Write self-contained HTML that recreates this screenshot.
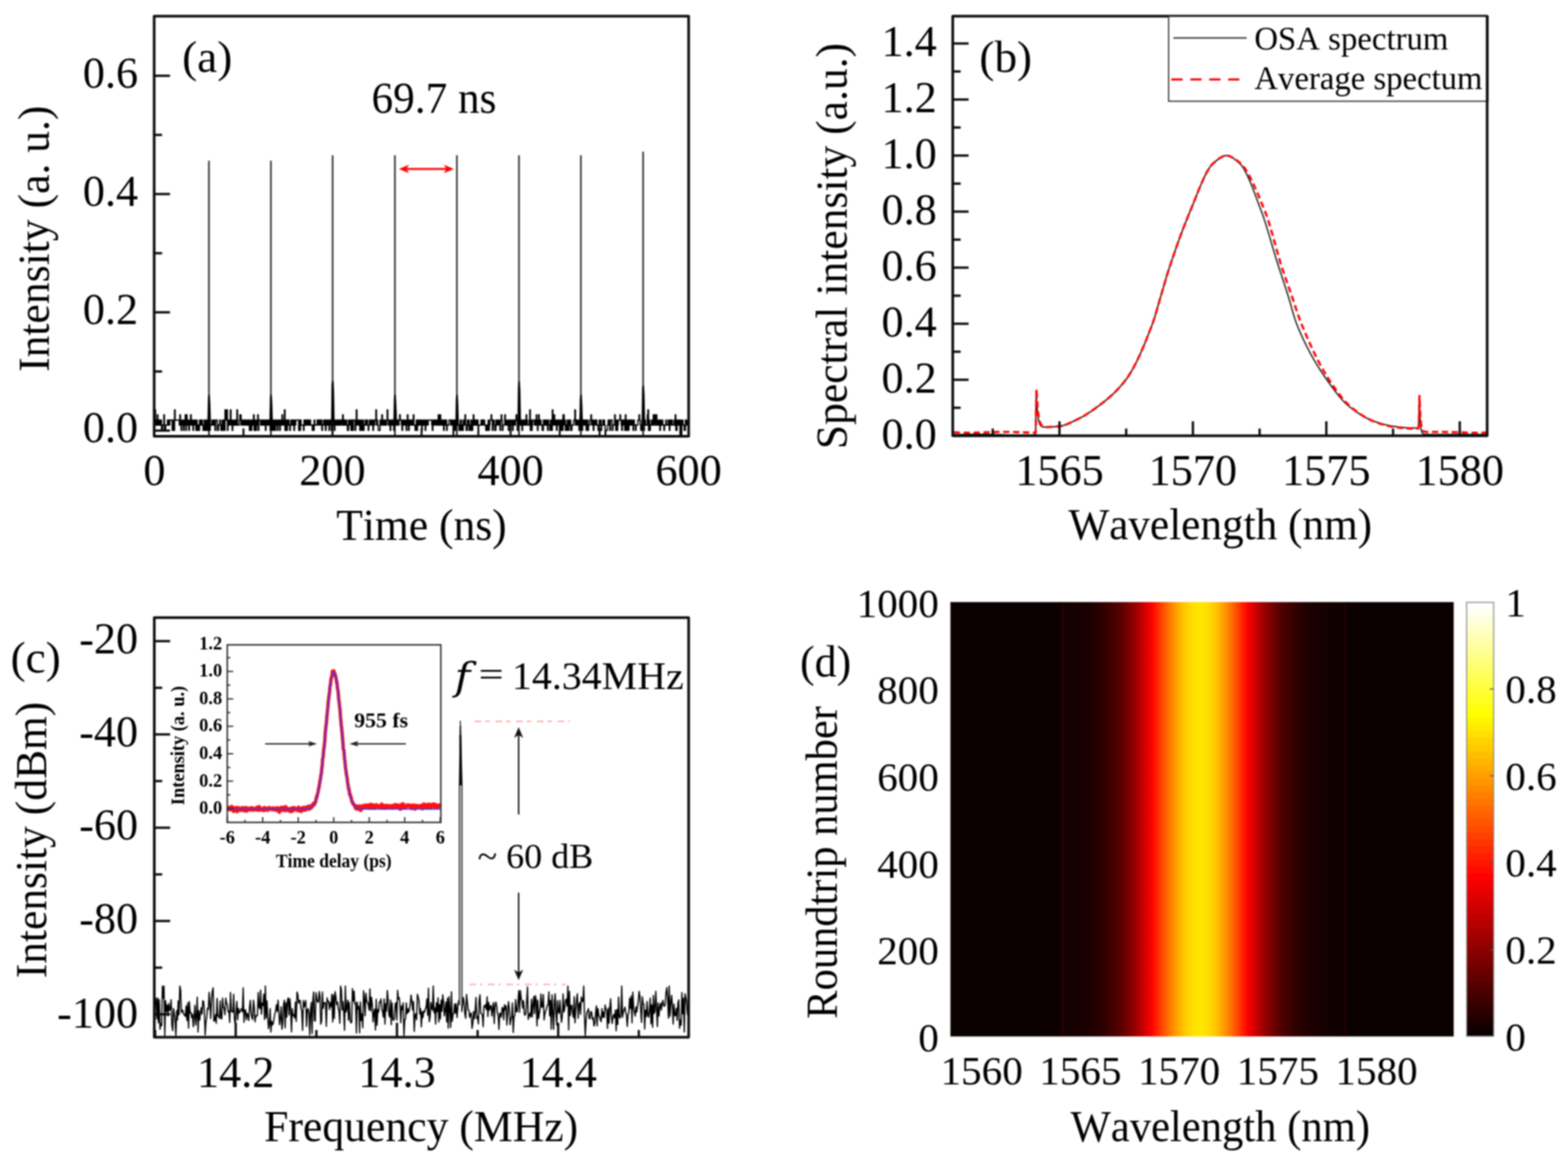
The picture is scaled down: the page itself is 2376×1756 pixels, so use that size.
<!DOCTYPE html>
<html><head><meta charset="utf-8"><title>Figure</title><style>html,body{margin:0;padding:0;background:#fff;width:2376px;height:1756px;overflow:hidden}svg{display:block;filter:blur(1px)}text{font-kerning:none;font-variant-ligatures:none}</style></head><body>
<svg width="2376" height="1756" viewBox="0 0 2376 1756"><rect width="2376" height="1756" fill="#fff"/><g font-family="'Liberation Serif', 'Times New Roman', serif" fill="#000"><polyline points="234.8,621 235.7,621 235.7,644 236.6,644 236.6,636.5 237.5,636.5 237.5,644 238.4,644 238.4,628.5 239.3,628.5 239.3,644 240.2,644 240.2,644 241.1,644 241.1,636.5 242,636.5 242,644 242.9,644 242.9,636.5 243.8,636.5 243.8,636.5 244.7,636.5 244.7,652 245.6,652 245.6,652 246.5,652 246.5,644 247.4,644 247.4,644 248.3,644 248.3,628.5 249.2,628.5 249.2,652 250.1,652 250.1,652 251,652 251,644 251.9,644 251.9,644 252.8,644 252.8,644 253.7,644 253.7,636.5 254.6,636.5 254.6,644 255.5,644 255.5,636.5 256.4,636.5 256.4,644 257.3,644 257.3,636.5 258.2,636.5 258.2,636.5 259.1,636.5 259.1,636.5 260,636.5 260,636.5 260.9,636.5 260.9,652 261.8,652 261.8,636.5 262.7,636.5 262.7,644 263.6,644 263.6,652 264.5,652 264.5,621 265.4,621 265.4,636.5 266.3,636.5 266.3,636.5 267.2,636.5 267.2,636.5 268.1,636.5 268.1,636.5 269,636.5 269,636.5 269.9,636.5 269.9,636.5 270.8,636.5 270.8,636.5 271.7,636.5 271.7,644 272.6,644 272.6,628.5 273.5,628.5 273.5,636.5 274.4,636.5 274.4,652 275.3,652 275.3,644 276.2,644 276.2,636.5 277.1,636.5 277.1,644 278,644 278,652 278.9,652 278.9,636.5 279.8,636.5 279.8,644 280.7,644 280.7,628.5 281.6,628.5 281.6,652 282.5,652 282.5,628.5 283.4,628.5 283.4,644 284.3,644 284.3,636.5 285.2,636.5 285.2,644 286.1,644 286.1,652 287,652 287,636.5 287.9,636.5 287.9,644 288.8,644 288.8,628.5 289.7,628.5 289.7,636.5 290.6,636.5 290.6,644 291.5,644 291.5,636.5 292.4,636.5 292.4,652 293.3,652 293.3,644 294.2,644 294.2,636.5 295.1,636.5 295.1,636.5 296,636.5 296,644 296.9,644 296.9,652 297.8,652 297.8,636.5 298.7,636.5 298.7,644 299.6,644 299.6,652 300.5,652 300.5,644 301.4,644 301.4,652 302.3,652 302.3,636.5 303.2,636.5 303.2,644 304.1,644 304.1,636.5 305,636.5 305,644 305.9,644 305.9,636.5 306.8,636.5 306.8,644 307.7,644 307.7,652 308.6,652 308.6,644 309.5,644 309.5,636.5 310.4,636.5 310.4,652 311.3,652 311.3,636.5 312.2,636.5 312.2,652 313.1,652 313.1,644 314,644 314,636.5 314.9,636.5 314.9,652 315.8,652 315.8,644 316.7,644 316.7,652 317.6,652 317.6,652 318.5,652 318.5,644 319.4,644 319.4,644 320.3,644 320.3,644 321.2,644 321.2,636.5 322.1,636.5 322.1,644 323,644 323,644 323.9,644 323.9,636.5 324.8,636.5 324.8,644 325.7,644 325.7,652 326.6,652 326.6,636.5 327.5,636.5 327.5,636.5 328.4,636.5 328.4,636.5 329.3,636.5 329.3,652 330.2,652 330.2,652 331.1,652 331.1,644 332,644 332,644 332.9,644 332.9,636.5 333.8,636.5 333.8,644 334.7,644 334.7,652 335.6,652 335.6,644 336.5,644 336.5,636.5 337.4,636.5 337.4,652 338.3,652 338.3,644 339.2,644 339.2,636.5 340.1,636.5 340.1,652 341,652 341,621 341.9,621 341.9,628.5 342.8,628.5 342.8,636.5 343.7,636.5 343.7,621 344.6,621 344.6,652 345.5,652 345.5,644 346.4,644 346.4,636.5 347.3,636.5 347.3,636.5 348.2,636.5 348.2,644 349.1,644 349.1,621 350,621 350,636.5 350.9,636.5 350.9,644 351.8,644 351.8,652 352.7,652 352.7,636.5 353.6,636.5 353.6,644 354.5,644 354.5,644 355.4,644 355.4,636.5 356.3,636.5 356.3,644 357.2,644 357.2,636.5 358.1,636.5 358.1,644 359,644 359,621 359.9,621 359.9,644 360.8,644 360.8,644 361.7,644 361.7,644 362.6,644 362.6,636.5 363.5,636.5 363.5,628.5 364.4,628.5 364.4,628.5 365.3,628.5 365.3,644 366.2,644 366.2,636.5 367.1,636.5 367.1,636.5 368,636.5 368,644 368.9,644 368.9,636.5 369.8,636.5 369.8,644 370.7,644 370.7,636.5 371.6,636.5 371.6,636.5 372.5,636.5 372.5,644 373.4,644 373.4,644 374.3,644 374.3,636.5 375.2,636.5 375.2,644 376.1,644 376.1,636.5 377,636.5 377,636.5 377.9,636.5 377.9,652 378.8,652 378.8,644 379.7,644 379.7,636.5 380.6,636.5 380.6,652 381.5,652 381.5,644 382.4,644 382.4,636.5 383.3,636.5 383.3,644 384.2,644 384.2,628.5 385.1,628.5 385.1,652 386,652 386,652 386.9,652 386.9,636.5 387.8,636.5 387.8,652 388.7,652 388.7,644 389.6,644 389.6,636.5 390.5,636.5 390.5,628.5 391.4,628.5 391.4,652 392.3,652 392.3,636.5 393.2,636.5 393.2,636.5 394.1,636.5 394.1,636.5 395,636.5 395,644 395.9,644 395.9,644 396.8,644 396.8,636.5 397.7,636.5 397.7,644 398.6,644 398.6,636.5 399.5,636.5 399.5,644 400.4,644 400.4,636.5 401.3,636.5 401.3,644 402.2,644 402.2,652 403.1,652 403.1,636.5 404,636.5 404,636.5 404.9,636.5 404.9,644 405.8,644 405.8,636.5 406.7,636.5 406.7,644 407.6,644 407.6,636.5 408.5,636.5 408.5,636.5 409.4,636.5 409.4,652 410.3,652 410.3,644 411.2,644 411.2,652 412.1,652 412.1,636.5 413,636.5 413,644 413.9,644 413.9,652 414.8,652 414.8,636.5 415.7,636.5 415.7,644 416.6,644 416.6,652 417.5,652 417.5,636.5 418.4,636.5 418.4,636.5 419.3,636.5 419.3,644 420.2,644 420.2,652 421.1,652 421.1,636.5 422,636.5 422,636.5 422.9,636.5 422.9,644 423.8,644 423.8,652 424.7,652 424.7,636.5 425.6,636.5 425.6,644 426.5,644 426.5,644 427.4,644 427.4,628.5 428.3,628.5 428.3,636.5 429.2,636.5 429.2,644 430.1,644 430.1,636.5 431,636.5 431,621 431.9,621 431.9,652 432.8,652 432.8,652 433.7,652 433.7,636.5 434.6,636.5 434.6,652 435.5,652 435.5,636.5 436.4,636.5 436.4,644 437.3,644 437.3,636.5 438.2,636.5 438.2,644 439.1,644 439.1,652 440,652 440,644 440.9,644 440.9,636.5 441.8,636.5 441.8,644 442.7,644 442.7,636.5 443.6,636.5 443.6,644 444.5,644 444.5,636.5 445.4,636.5 445.4,652 446.3,652 446.3,636.5 447.2,636.5 447.2,644 448.1,644 448.1,636.5 449,636.5 449,636.5 449.9,636.5 449.9,636.5 450.8,636.5 450.8,636.5 451.7,636.5 451.7,636.5 452.6,636.5 452.6,652 453.5,652 453.5,636.5 454.4,636.5 454.4,652 455.3,652 455.3,636.5 456.2,636.5 456.2,644 457.1,644 457.1,644 458,644 458,644 458.9,644 458.9,644 459.8,644 459.8,652 460.7,652 460.7,636.5 461.6,636.5 461.6,644 462.5,644 462.5,636.5 463.4,636.5 463.4,644 464.3,644 464.3,636.5 465.2,636.5 465.2,644 466.1,644 466.1,636.5 467,636.5 467,644 467.9,644 467.9,636.5 468.8,636.5 468.8,644 469.7,644 469.7,636.5 470.6,636.5 470.6,644 471.5,644 471.5,644 472.4,644 472.4,644 473.3,644 473.3,652 474.2,652 474.2,644 475.1,644 475.1,652 476,652 476,636.5 476.9,636.5 476.9,644 477.8,644 477.8,644 478.7,644 478.7,644 479.6,644 479.6,644 480.5,644 480.5,636.5 481.4,636.5 481.4,636.5 482.3,636.5 482.3,644 483.2,644 483.2,636.5 484.1,636.5 484.1,636.5 485,636.5 485,644 485.9,644 485.9,636.5 486.8,636.5 486.8,636.5 487.7,636.5 487.7,652 488.6,652 488.6,644 489.5,644 489.5,644 490.4,644 490.4,636.5 491.3,636.5 491.3,644 492.2,644 492.2,636.5 493.1,636.5 493.1,652 494,652 494,636.5 494.9,636.5 494.9,644 495.8,644 495.8,636.5 496.7,636.5 496.7,644 497.6,644 497.6,636.5 498.5,636.5 498.5,652 499.4,652 499.4,644 500.3,644 500.3,636.5 501.2,636.5 501.2,636.5 502.1,636.5 502.1,652 503,652 503,644 503.9,644 503.9,636.5 504.8,636.5 504.8,636.5 505.7,636.5 505.7,636.5 506.6,636.5 506.6,652 507.5,652 507.5,644 508.4,644 508.4,636.5 509.3,636.5 509.3,644 510.2,644 510.2,636.5 511.1,636.5 511.1,644 512,644 512,636.5 512.9,636.5 512.9,644 513.8,644 513.8,644 514.7,644 514.7,636.5 515.6,636.5 515.6,644 516.5,644 516.5,636.5 517.4,636.5 517.4,636.5 518.3,636.5 518.3,644 519.2,644 519.2,628.5 520.1,628.5 520.1,644 521,644 521,636.5 521.9,636.5 521.9,644 522.8,644 522.8,636.5 523.7,636.5 523.7,644 524.6,644 524.6,636.5 525.5,636.5 525.5,644 526.4,644 526.4,652 527.3,652 527.3,652 528.2,652 528.2,636.5 529.1,636.5 529.1,636.5 530,636.5 530,644 530.9,644 530.9,636.5 531.8,636.5 531.8,652 532.7,652 532.7,644 533.6,644 533.6,636.5 534.5,636.5 534.5,652 535.4,652 535.4,636.5 536.3,636.5 536.3,636.5 537.2,636.5 537.2,636.5 538.1,636.5 538.1,652 539,652 539,636.5 539.9,636.5 539.9,621 540.8,621 540.8,644 541.7,644 541.7,644 542.6,644 542.6,636.5 543.5,636.5 543.5,644 544.4,644 544.4,636.5 545.3,636.5 545.3,652 546.2,652 546.2,644 547.1,644 547.1,636.5 548,636.5 548,652 548.9,652 548.9,644 549.8,644 549.8,636.5 550.7,636.5 550.7,652 551.6,652 551.6,644 552.5,644 552.5,644 553.4,644 553.4,636.5 554.3,636.5 554.3,644 555.2,644 555.2,636.5 556.1,636.5 556.1,636.5 557,636.5 557,644 557.9,644 557.9,652 558.8,652 558.8,644 559.7,644 559.7,636.5 560.6,636.5 560.6,636.5 561.5,636.5 561.5,644 562.4,644 562.4,636.5 563.3,636.5 563.3,636.5 564.2,636.5 564.2,644 565.1,644 565.1,652 566,652 566,636.5 566.9,636.5 566.9,644 567.8,644 567.8,636.5 568.7,636.5 568.7,636.5 569.6,636.5 569.6,621 570.5,621 570.5,644 571.4,644 571.4,636.5 572.3,636.5 572.3,644 573.2,644 573.2,652 574.1,652 574.1,652 575,652 575,652 575.9,652 575.9,636.5 576.8,636.5 576.8,644 577.7,644 577.7,636.5 578.6,636.5 578.6,628.5 579.5,628.5 579.5,644 580.4,644 580.4,644 581.3,644 581.3,636.5 582.2,636.5 582.2,644 583.1,644 583.1,636.5 584,636.5 584,644 584.9,644 584.9,644 585.8,644 585.8,636.5 586.7,636.5 586.7,621 587.6,621 587.6,636.5 588.5,636.5 588.5,644 589.4,644 589.4,636.5 590.3,636.5 590.3,644 591.2,644 591.2,652 592.1,652 592.1,636.5 593,636.5 593,636.5 593.9,636.5 593.9,644 594.8,644 594.8,636.5 595.7,636.5 595.7,644 596.6,644 596.6,652 597.5,652 597.5,644 598.4,644 598.4,636.5 599.3,636.5 599.3,621 600.2,621 600.2,636.5 601.1,636.5 601.1,636.5 602,636.5 602,644 602.9,644 602.9,636.5 603.8,636.5 603.8,644 604.7,644 604.7,636.5 605.6,636.5 605.6,628.5 606.5,628.5 606.5,636.5 607.4,636.5 607.4,636.5 608.3,636.5 608.3,644 609.2,644 609.2,652 610.1,652 610.1,636.5 611,636.5 611,636.5 611.9,636.5 611.9,644 612.8,644 612.8,644 613.7,644 613.7,636.5 614.6,636.5 614.6,644 615.5,644 615.5,652 616.4,652 616.4,636.5 617.3,636.5 617.3,628.5 618.2,628.5 618.2,644 619.1,644 619.1,652 620,652 620,636.5 620.9,636.5 620.9,644 621.8,644 621.8,636.5 622.7,636.5 622.7,644 623.6,644 623.6,636.5 624.5,636.5 624.5,644 625.4,644 625.4,644 626.3,644 626.3,628.5 627.2,628.5 627.2,644 628.1,644 628.1,644 629,644 629,652 629.9,652 629.9,644 630.8,644 630.8,636.5 631.7,636.5 631.7,652 632.6,652 632.6,636.5 633.5,636.5 633.5,644 634.4,644 634.4,636.5 635.3,636.5 635.3,644 636.2,644 636.2,636.5 637.1,636.5 637.1,636.5 638,636.5 638,644 638.9,644 638.9,652 639.8,652 639.8,636.5 640.7,636.5 640.7,644 641.6,644 641.6,644 642.5,644 642.5,636.5 643.4,636.5 643.4,636.5 644.3,636.5 644.3,652 645.2,652 645.2,644 646.1,644 646.1,636.5 647,636.5 647,644 647.9,644 647.9,644 648.8,644 648.8,636.5 649.7,636.5 649.7,636.5 650.6,636.5 650.6,636.5 651.5,636.5 651.5,636.5 652.4,636.5 652.4,636.5 653.3,636.5 653.3,636.5 654.2,636.5 654.2,644 655.1,644 655.1,652 656,652 656,636.5 656.9,636.5 656.9,644 657.8,644 657.8,636.5 658.7,636.5 658.7,636.5 659.6,636.5 659.6,644 660.5,644 660.5,636.5 661.4,636.5 661.4,636.5 662.3,636.5 662.3,644 663.2,644 663.2,644 664.1,644 664.1,628.5 665,628.5 665,644 665.9,644 665.9,644 666.8,644 666.8,628.5 667.7,628.5 667.7,636.5 668.6,636.5 668.6,644 669.5,644 669.5,636.5 670.4,636.5 670.4,644 671.3,644 671.3,636.5 672.2,636.5 672.2,652 673.1,652 673.1,636.5 674,636.5 674,644 674.9,644 674.9,636.5 675.8,636.5 675.8,636.5 676.7,636.5 676.7,652 677.6,652 677.6,644 678.5,644 678.5,644 679.4,644 679.4,644 680.3,644 680.3,636.5 681.2,636.5 681.2,636.5 682.1,636.5 682.1,636.5 683,636.5 683,644 683.9,644 683.9,636.5 684.8,636.5 684.8,636.5 685.7,636.5 685.7,644 686.6,644 686.6,659 687.5,659 687.5,636.5 688.4,636.5 688.4,644 689.3,644 689.3,652 690.2,652 690.2,636.5 691.1,636.5 691.1,636.5 692,636.5 692,644 692.9,644 692.9,636.5 693.8,636.5 693.8,644 694.7,644 694.7,644 695.6,644 695.6,652 696.5,652 696.5,652 697.4,652 697.4,636.5 698.3,636.5 698.3,636.5 699.2,636.5 699.2,652 700.1,652 700.1,644 701,644 701,652 701.9,652 701.9,636.5 702.8,636.5 702.8,644 703.7,644 703.7,636.5 704.6,636.5 704.6,628.5 705.5,628.5 705.5,644 706.4,644 706.4,652 707.3,652 707.3,652 708.2,652 708.2,636.5 709.1,636.5 709.1,644 710,644 710,636.5 710.9,636.5 710.9,652 711.8,652 711.8,652 712.7,652 712.7,644 713.6,644 713.6,636.5 714.5,636.5 714.5,652 715.4,652 715.4,652 716.3,652 716.3,636.5 717.2,636.5 717.2,628.5 718.1,628.5 718.1,644 719,644 719,636.5 719.9,636.5 719.9,644 720.8,644 720.8,636.5 721.7,636.5 721.7,644 722.6,644 722.6,636.5 723.5,636.5 723.5,636.5 724.4,636.5 724.4,659 725.3,659 725.3,644 726.2,644 726.2,644 727.1,644 727.1,644 728,644 728,644 728.9,644 728.9,636.5 729.8,636.5 729.8,644 730.7,644 730.7,636.5 731.6,636.5 731.6,636.5 732.5,636.5 732.5,644 733.4,644 733.4,636.5 734.3,636.5 734.3,644 735.2,644 735.2,644 736.1,644 736.1,652 737,652 737,644 737.9,644 737.9,652 738.8,652 738.8,644 739.7,644 739.7,636.5 740.6,636.5 740.6,652 741.5,652 741.5,644 742.4,644 742.4,636.5 743.3,636.5 743.3,636.5 744.2,636.5 744.2,628.5 745.1,628.5 745.1,636.5 746,636.5 746,652 746.9,652 746.9,636.5 747.8,636.5 747.8,636.5 748.7,636.5 748.7,644 749.6,644 749.6,652 750.5,652 750.5,652 751.4,652 751.4,636.5 752.3,636.5 752.3,644 753.2,644 753.2,636.5 754.1,636.5 754.1,644 755,644 755,636.5 755.9,636.5 755.9,636.5 756.8,636.5 756.8,644 757.7,644 757.7,652 758.6,652 758.6,636.5 759.5,636.5 759.5,628.5 760.4,628.5 760.4,636.5 761.3,636.5 761.3,652 762.2,652 762.2,644 763.1,644 763.1,644 764,644 764,644 764.9,644 764.9,628.5 765.8,628.5 765.8,636.5 766.7,636.5 766.7,644 767.6,644 767.6,644 768.5,644 768.5,636.5 769.4,636.5 769.4,644 770.3,644 770.3,652 771.2,652 771.2,636.5 772.1,636.5 772.1,644 773,644 773,636.5 773.9,636.5 773.9,644 774.8,644 774.8,636.5 775.7,636.5 775.7,644 776.6,644 776.6,652 777.5,652 777.5,636.5 778.4,636.5 778.4,644 779.3,644 779.3,636.5 780.2,636.5 780.2,644 781.1,644 781.1,636.5 782,636.5 782,628.5 782.9,628.5 782.9,636.5 783.8,636.5 783.8,652 784.7,652 784.7,644 785.6,644 785.6,636.5 786.5,636.5 786.5,644 787.4,644 787.4,636.5 788.3,636.5 788.3,636.5 789.2,636.5 789.2,644 790.1,644 790.1,636.5 791,636.5 791,652 791.9,652 791.9,644 792.8,644 792.8,636.5 793.7,636.5 793.7,636.5 794.6,636.5 794.6,644 795.5,644 795.5,636.5 796.4,636.5 796.4,644 797.3,644 797.3,628.5 798.2,628.5 798.2,636.5 799.1,636.5 799.1,644 800,644 800,644 800.9,644 800.9,644 801.8,644 801.8,636.5 802.7,636.5 802.7,621 803.6,621 803.6,652 804.5,652 804.5,636.5 805.4,636.5 805.4,652 806.3,652 806.3,644 807.2,644 807.2,636.5 808.1,636.5 808.1,636.5 809,636.5 809,636.5 809.9,636.5 809.9,644 810.8,644 810.8,636.5 811.7,636.5 811.7,644 812.6,644 812.6,628.5 813.5,628.5 813.5,636.5 814.4,636.5 814.4,652 815.3,652 815.3,644 816.2,644 816.2,628.5 817.1,628.5 817.1,636.5 818,636.5 818,644 818.9,644 818.9,636.5 819.8,636.5 819.8,644 820.7,644 820.7,644 821.6,644 821.6,652 822.5,652 822.5,652 823.4,652 823.4,636.5 824.3,636.5 824.3,644 825.2,644 825.2,644 826.1,644 826.1,636.5 827,636.5 827,644 827.9,644 827.9,636.5 828.8,636.5 828.8,644 829.7,644 829.7,652 830.6,652 830.6,636.5 831.5,636.5 831.5,644 832.4,644 832.4,644 833.3,644 833.3,652 834.2,652 834.2,636.5 835.1,636.5 835.1,644 836,644 836,652 836.9,652 836.9,621 837.8,621 837.8,644 838.7,644 838.7,636.5 839.6,636.5 839.6,628.5 840.5,628.5 840.5,644 841.4,644 841.4,636.5 842.3,636.5 842.3,644 843.2,644 843.2,652 844.1,652 844.1,636.5 845,636.5 845,644 845.9,644 845.9,636.5 846.8,636.5 846.8,636.5 847.7,636.5 847.7,659 848.6,659 848.6,644 849.5,644 849.5,636.5 850.4,636.5 850.4,652 851.3,652 851.3,636.5 852.2,636.5 852.2,652 853.1,652 853.1,628.5 854,628.5 854,628.5 854.9,628.5 854.9,644 855.8,644 855.8,636.5 856.7,636.5 856.7,652 857.6,652 857.6,644 858.5,644 858.5,652 859.4,652 859.4,636.5 860.3,636.5 860.3,644 861.2,644 861.2,652 862.1,652 862.1,636.5 863,636.5 863,644 863.9,644 863.9,636.5 864.8,636.5 864.8,652 865.7,652 865.7,652 866.6,652 866.6,644 867.5,644 867.5,644 868.4,644 868.4,644 869.3,644 869.3,636.5 870.2,636.5 870.2,636.5 871.1,636.5 871.1,621 872,621 872,644 872.9,644 872.9,636.5 873.8,636.5 873.8,636.5 874.7,636.5 874.7,644 875.6,644 875.6,644 876.5,644 876.5,636.5 877.4,636.5 877.4,652 878.3,652 878.3,644 879.2,644 879.2,636.5 880.1,636.5 880.1,644 881,644 881,636.5 881.9,636.5 881.9,652 882.8,652 882.8,644 883.7,644 883.7,636.5 884.6,636.5 884.6,636.5 885.5,636.5 885.5,644 886.4,644 886.4,636.5 887.3,636.5 887.3,636.5 888.2,636.5 888.2,652 889.1,652 889.1,644 890,644 890,636.5 890.9,636.5 890.9,652 891.8,652 891.8,644 892.7,644 892.7,644 893.6,644 893.6,636.5 894.5,636.5 894.5,636.5 895.4,636.5 895.4,628.5 896.3,628.5 896.3,644 897.2,644 897.2,636.5 898.1,636.5 898.1,636.5 899,636.5 899,652 899.9,652 899.9,644 900.8,644 900.8,636.5 901.7,636.5 901.7,636.5 902.6,636.5 902.6,644 903.5,644 903.5,636.5 904.4,636.5 904.4,644 905.3,644 905.3,644 906.2,644 906.2,652 907.1,652 907.1,652 908,652 908,636.5 908.9,636.5 908.9,644 909.8,644 909.8,636.5 910.7,636.5 910.7,652 911.6,652 911.6,644 912.5,644 912.5,644 913.4,644 913.4,636.5 914.3,636.5 914.3,644 915.2,644 915.2,636.5 916.1,636.5 916.1,644 917,644 917,659 917.9,659 917.9,652 918.8,652 918.8,652 919.7,652 919.7,652 920.6,652 920.6,644 921.5,644 921.5,636.5 922.4,636.5 922.4,644 923.3,644 923.3,636.5 924.2,636.5 924.2,652 925.1,652 925.1,636.5 926,636.5 926,636.5 926.9,636.5 926.9,636.5 927.8,636.5 927.8,652 928.7,652 928.7,644 929.6,644 929.6,644 930.5,644 930.5,644 931.4,644 931.4,628.5 932.3,628.5 932.3,644 933.2,644 933.2,652 934.1,652 934.1,636.5 935,636.5 935,652 935.9,652 935.9,644 936.8,644 936.8,636.5 937.7,636.5 937.7,636.5 938.6,636.5 938.6,636.5 939.5,636.5 939.5,628.5 940.4,628.5 940.4,636.5 941.3,636.5 941.3,644 942.2,644 942.2,652 943.1,652 943.1,636.5 944,636.5 944,644 944.9,644 944.9,636.5 945.8,636.5 945.8,636.5 946.7,636.5 946.7,652 947.6,652 947.6,628.5 948.5,628.5 948.5,644 949.4,644 949.4,652 950.3,652 950.3,636.5 951.2,636.5 951.2,644 952.1,644 952.1,652 953,652 953,636.5 953.9,636.5 953.9,644 954.8,644 954.8,636.5 955.7,636.5 955.7,644 956.6,644 956.6,636.5 957.5,636.5 957.5,636.5 958.4,636.5 958.4,644 959.3,644 959.3,652 960.2,652 960.2,636.5 961.1,636.5 961.1,644 962,644 962,644 962.9,644 962.9,652 963.8,652 963.8,644 964.7,644 964.7,644 965.6,644 965.6,644 966.5,644 966.5,636.5 967.4,636.5 967.4,636.5 968.3,636.5 968.3,628.5 969.2,628.5 969.2,636.5 970.1,636.5 970.1,644 971,644 971,652 971.9,652 971.9,644 972.8,644 972.8,636.5 973.7,636.5 973.7,652 974.6,652 974.6,652 975.5,652 975.5,652 976.4,652 976.4,644 977.3,644 977.3,636.5 978.2,636.5 978.2,644 979.1,644 979.1,644 980,644 980,644 980.9,644 980.9,628.5 981.8,628.5 981.8,621 982.7,621 982.7,652 983.6,652 983.6,636.5 984.5,636.5 984.5,652 985.4,652 985.4,644 986.3,644 986.3,644 987.2,644 987.2,636.5 988.1,636.5 988.1,644 989,644 989,636.5 989.9,636.5 989.9,628.5 990.8,628.5 990.8,644 991.7,644 991.7,628.5 992.6,628.5 992.6,636.5 993.5,636.5 993.5,644 994.4,644 994.4,628.5 995.3,628.5 995.3,636.5 996.2,636.5 996.2,644 997.1,644 997.1,636.5 998,636.5 998,644 998.9,644 998.9,636.5 999.8,636.5 999.8,652 1000.7,652 1000.7,636.5 1001.6,636.5 1001.6,644 1002.5,644 1002.5,644 1003.4,644 1003.4,636.5 1004.3,636.5 1004.3,644 1005.2,644 1005.2,644 1006.1,644 1006.1,652 1007,652 1007,644 1007.9,644 1007.9,644 1008.8,644 1008.8,636.5 1009.7,636.5 1009.7,644 1010.6,644 1010.6,644 1011.5,644 1011.5,644 1012.4,644 1012.4,636.5 1013.3,636.5 1013.3,644 1014.2,644 1014.2,652 1015.1,652 1015.1,636.5 1016,636.5 1016,644 1016.9,644 1016.9,636.5 1017.8,636.5 1017.8,636.5 1018.7,636.5 1018.7,644 1019.6,644 1019.6,644 1020.5,644 1020.5,644 1021.4,644 1021.4,636.5 1022.3,636.5 1022.3,644 1023.2,644 1023.2,628.5 1024.1,628.5 1024.1,652 1025,652 1025,652 1025.9,652 1025.9,636.5 1026.8,636.5 1026.8,636.5 1027.7,636.5 1027.7,644 1028.6,644 1028.6,636.5 1029.5,636.5 1029.5,644 1030.4,644 1030.4,659 1031.3,659 1031.3,636.5 1032.2,636.5 1032.2,659 1033.1,659 1033.1,644 1034,644 1034,636.5 1034.9,636.5 1034.9,644 1035.8,644 1035.8,644 1036.7,644 1036.7,652 1037.6,652 1037.6,652 1038.5,652 1038.5,636.5 1039.4,636.5 1039.4,636.5 1040.3,636.5 1040.3,644 1041.2,644 1041.2,644 1042.1,644 1042.1,636.5" fill="none" stroke="#000" stroke-width="1.9" stroke-linejoin="round" stroke-linejoin="miter"/>
<line x1="316.6" y1="243.5" x2="316.6" y2="645" stroke="#3a3a3a" stroke-width="2.6"/>
<path d="M314.2 645 L315 604 L315.8 598 L318 598 L318.8 612 L319.8 645 Z" fill="#000"/>
<line x1="316.6" y1="640" x2="316.6" y2="660" stroke="#000" stroke-width="2.2"/>
<line x1="410.5" y1="243.5" x2="410.5" y2="645" stroke="#3a3a3a" stroke-width="2.6"/>
<path d="M408.1 645 L408.9 604 L409.7 598 L411.9 598 L412.7 612 L413.7 645 Z" fill="#000"/>
<line x1="410.5" y1="640" x2="410.5" y2="660" stroke="#000" stroke-width="2.2"/>
<line x1="504" y1="235.2" x2="504" y2="645" stroke="#3a3a3a" stroke-width="2.6"/>
<path d="M501.6 645 L502.4 583 L503.2 577 L505.4 577 L506.2 591 L507.2 645 Z" fill="#000"/>
<line x1="504" y1="640" x2="504" y2="660" stroke="#000" stroke-width="2.2"/>
<line x1="598.4" y1="235.2" x2="598.4" y2="645" stroke="#3a3a3a" stroke-width="2.6"/>
<path d="M596 645 L596.8 604 L597.6 598 L599.8 598 L600.6 612 L601.6 645 Z" fill="#000"/>
<line x1="598.4" y1="640" x2="598.4" y2="660" stroke="#000" stroke-width="2.2"/>
<line x1="692.3" y1="235.2" x2="692.3" y2="645" stroke="#3a3a3a" stroke-width="2.6"/>
<path d="M689.9 645 L690.7 604 L691.5 598 L693.7 598 L694.5 612 L695.5 645 Z" fill="#000"/>
<line x1="692.3" y1="640" x2="692.3" y2="660" stroke="#000" stroke-width="2.2"/>
<line x1="786.4" y1="235.2" x2="786.4" y2="645" stroke="#3a3a3a" stroke-width="2.6"/>
<path d="M784 645 L784.8 584 L785.6 578 L787.8 578 L788.6 592 L789.6 645 Z" fill="#000"/>
<line x1="786.4" y1="640" x2="786.4" y2="660" stroke="#000" stroke-width="2.2"/>
<line x1="880.2" y1="235.2" x2="880.2" y2="645" stroke="#3a3a3a" stroke-width="2.6"/>
<path d="M877.8 645 L878.6 604 L879.4 598 L881.6 598 L882.4 612 L883.4 645 Z" fill="#000"/>
<line x1="880.2" y1="640" x2="880.2" y2="660" stroke="#000" stroke-width="2.2"/>
<line x1="974.5" y1="229.7" x2="974.5" y2="645" stroke="#3a3a3a" stroke-width="2.6"/>
<path d="M972.1 645 L972.9 590 L973.7 584 L975.9 584 L976.7 598 L977.7 645 Z" fill="#000"/>
<line x1="974.5" y1="640" x2="974.5" y2="660" stroke="#000" stroke-width="2.2"/>
<rect x="233.6" y="24.6" width="809.9" height="636.4" fill="none" stroke="#0c0c0c" stroke-width="4" stroke-linejoin="round"/>
<line x1="233.6" y1="652.4" x2="257.6" y2="652.4" stroke="#0c0c0c" stroke-width="3.5"/>
<line x1="233.6" y1="562.8" x2="245.6" y2="562.8" stroke="#0c0c0c" stroke-width="3.5"/>
<line x1="233.6" y1="473.2" x2="257.6" y2="473.2" stroke="#0c0c0c" stroke-width="3.5"/>
<line x1="233.6" y1="383.6" x2="245.6" y2="383.6" stroke="#0c0c0c" stroke-width="3.5"/>
<line x1="233.6" y1="294" x2="257.6" y2="294" stroke="#0c0c0c" stroke-width="3.5"/>
<line x1="233.6" y1="204.4" x2="245.6" y2="204.4" stroke="#0c0c0c" stroke-width="3.5"/>
<line x1="233.6" y1="114.8" x2="257.6" y2="114.8" stroke="#0c0c0c" stroke-width="3.5"/>
<line x1="368.9" y1="661" x2="368.9" y2="649" stroke="#0c0c0c" stroke-width="3"/>
<line x1="503.8" y1="661" x2="503.8" y2="637" stroke="#0c0c0c" stroke-width="3"/>
<line x1="638.8" y1="661" x2="638.8" y2="649" stroke="#0c0c0c" stroke-width="3"/>
<line x1="773.7" y1="661" x2="773.7" y2="637" stroke="#0c0c0c" stroke-width="3"/>
<line x1="908.6" y1="661" x2="908.6" y2="649" stroke="#0c0c0c" stroke-width="3"/>
<text transform="translate(209.3,670.4)" font-size="67.00" text-anchor="end">0.0</text>
<text transform="translate(209.3,491.2)" font-size="67.00" text-anchor="end">0.2</text>
<text transform="translate(209.3,312)" font-size="67.00" text-anchor="end">0.4</text>
<text transform="translate(209.3,132.8)" font-size="67.00" text-anchor="end">0.6</text>
<text transform="translate(234,734.8)" font-size="67.00" text-anchor="middle">0</text>
<text transform="translate(503.8,734.8)" font-size="67.00" text-anchor="middle">200</text>
<text transform="translate(773.7,734.8)" font-size="67.00" text-anchor="middle">400</text>
<text transform="translate(1043.5,734.8)" font-size="67.00" text-anchor="middle">600</text>
<text transform="translate(509.4,818.3) scale(0.9853,1.0000)" font-size="67.00">Time (ns)</text>
<text transform="translate(73.6,563.5) rotate(-90) scale(0.9862,1.0000)" font-size="67.00">Intensity (a. u.)</text>
<text transform="translate(276,108.6) scale(1.0223,1.0000)" font-size="67.00">(a)</text>
<text transform="translate(563,171) scale(0.9778,1.0000)" font-size="67.00">69.7 ns</text>
<line x1="611" y1="256" x2="681" y2="256" stroke="#ff0000" stroke-width="3"/>
<path d="M604.5 256 L620 249.5 L615.5 256 L620 262.5 Z" fill="#ff0000"/>
<path d="M687.8 256 L672.3 249.5 L676.8 256 L672.3 262.5 Z" fill="#ff0000"/>
<polyline points="1445.2,658.6 1446.2,658.6 1447.2,658.5 1448.2,658.5 1449.2,658.5 1450.2,658.5 1451.2,658.4 1452.2,658.4 1453.2,658.4 1454.2,658.4 1455.2,658.3 1456.2,658.3 1457.2,658.3 1458.2,658.3 1459.2,658.2 1460.2,658.2 1461.2,658.2 1462.2,658.2 1463.2,658.2 1464.2,658.1 1465.2,658.1 1466.2,658.1 1467.2,658.1 1468.2,658.1 1469.2,658.1 1470.2,658 1471.2,658 1472.2,658 1473.2,658 1474.2,658 1475.2,658 1476.2,658 1477.2,658 1478.2,658 1479.2,658 1480.2,658 1481.2,658 1482.2,658 1483.2,658 1484.2,658 1485.2,658 1486.2,658 1487.2,658 1488.2,658 1489.2,658 1490.2,658 1491.2,658 1492.2,658 1493.2,658 1494.2,658.1 1495.2,658.1 1496.2,658.1 1497.2,658.1 1498.2,658.1 1499.2,658.1 1500.2,658.2 1501.2,658.2 1502.2,658.2 1503.2,658.2 1504.2,658.3 1505.2,658.3 1506.2,658.3 1507.2,658.3 1508.2,658.4 1509.2,658.4 1510.2,658.4 1511.2,658.4 1512.2,658.5 1513.2,658.5 1514.2,658.5 1515.2,658.5 1516.2,658.6 1517.2,658.6 1518.2,658.6 1519.2,658.7 1520.2,658.7 1521.2,658.7 1522.2,658.7 1523.2,658.8 1524.2,658.8 1525.2,658.8 1526.2,658.8 1527.2,658.9 1528.2,658.9 1529.2,658.9 1530.2,658.9 1531.2,659 1532.2,659 1533.2,659 1534.2,659 1535.2,659 1536.2,659.1 1537.2,659.1 1538.2,659.1 1539.2,659.1 1540.2,659.1 1541.2,659.1 1542.2,659.2 1543.2,659.2 1544.2,659.2 1545.2,659.2 1546.2,659.2 1547.2,659.2 1548.2,659.2 1549.2,659.2 1550.2,659.2 1551.2,659.2 1552.2,659.2 1553.2,659.2 1554.2,659.2 1555.2,659.2 1556.2,659.2 1557.2,659.2 1558.2,659.2 1559.2,659.2 1560.2,659.2 1561.2,659.2 1562.2,659.2 1563.2,659.2 1564.2,659.2 1565.2,659.2 1566.2,659.1 1567.2,659.1 1568.2,659.1 1569.2,659.1 1569.4,648.5 1570.2,594.5 1570.6,603.3 1571,610.7 1571.2,613.9 1572.2,626.2 1573.2,634 1574.2,638.9 1575.2,642 1576.2,644 1577.2,645.3 1578.2,646 1579.2,646.5 1580.2,646.8 1581.2,647 1582.2,647.1 1583.2,647.1 1584.2,647.1 1585.2,647.2 1586.2,647.1 1587.2,647.1 1588.2,647 1589.2,647 1590.2,646.9 1591.2,646.9 1592.2,646.8 1593.2,646.8 1594.2,646.7 1595.2,646.6 1596.2,646.6 1597.2,646.5 1598.2,646.4 1599.2,646.4 1600.2,646.3 1601.2,646.2 1602.2,646.1 1603.2,646 1604.2,646 1605.2,645.9 1606.2,645.8 1607.2,645.6 1608.2,645.5 1609.2,645.2 1610.2,645 1611.2,644.7 1612.2,644.4 1613.2,644.1 1614.2,643.8 1615.2,643.4 1616.2,643 1617.2,642.6 1618.2,642.2 1619.2,641.8 1620.2,641.3 1621.2,640.8 1622.2,640.4 1623.2,639.9 1624.2,639.4 1625.2,638.9 1626.2,638.5 1627.2,638 1628.2,637.5 1629.2,637 1630.2,636.6 1631.2,636.1 1632.2,635.6 1633.2,635.1 1634.2,634.6 1635.2,634.1 1636.2,633.6 1637.2,633.1 1638.2,632.5 1639.2,632 1640.2,631.4 1641.2,630.8 1642.2,630.3 1643.2,629.7 1644.2,629.1 1645.2,628.5 1646.2,627.8 1647.2,627.2 1648.2,626.6 1649.2,625.9 1650.2,625.3 1651.2,624.6 1652.2,623.9 1653.2,623.3 1654.2,622.6 1655.2,621.9 1656.2,621.2 1657.2,620.5 1658.2,619.8 1659.2,619.1 1660.2,618.3 1661.2,617.6 1662.2,616.9 1663.2,616.1 1664.2,615.4 1665.2,614.7 1666.2,613.9 1667.2,613.2 1668.2,612.4 1669.2,611.6 1670.2,610.9 1671.2,610.1 1672.2,609.3 1673.2,608.5 1674.2,607.7 1675.2,606.9 1676.2,606.1 1677.2,605.3 1678.2,604.4 1679.2,603.6 1680.2,602.7 1681.2,601.9 1682.2,601 1683.2,600.1 1684.2,599.2 1685.2,598.3 1686.2,597.3 1687.2,596.4 1688.2,595.4 1689.2,594.5 1690.2,593.5 1691.2,592.5 1692.2,591.4 1693.2,590.4 1694.2,589.3 1695.2,588.3 1696.2,587.2 1697.2,586 1698.2,584.9 1699.2,583.8 1700.2,582.6 1701.2,581.4 1702.2,580.2 1703.2,579 1704.2,577.7 1705.2,576.4 1706.2,575.1 1707.2,573.8 1708.2,572.4 1709.2,570.9 1710.2,569.5 1711.2,567.9 1712.2,566.3 1713.2,564.7 1714.2,563 1715.2,561.3 1716.2,559.6 1717.2,557.8 1718.2,555.9 1719.2,554.1 1720.2,552.1 1721.2,550.2 1722.2,548.2 1723.2,546.1 1724.2,544.1 1725.2,542 1726.2,539.8 1727.2,537.7 1728.2,535.5 1729.2,533.2 1730.2,530.9 1731.2,528.6 1732.2,526.3 1733.2,524 1734.2,521.6 1735.2,519.1 1736.2,516.7 1737.2,514.2 1738.2,511.7 1739.2,509.2 1740.2,506.7 1741.2,504.1 1742.2,501.5 1743.2,498.9 1744.2,496.3 1745.2,493.7 1746.2,491 1747.2,488.3 1748.2,485.3 1749.2,482.3 1750.2,479.1 1751.2,475.7 1752.2,472.3 1753.2,468.9 1754.2,465.3 1755.2,461.8 1756.2,458.3 1757.2,454.8 1758.2,451.4 1759.2,448 1760.2,444.7 1761.2,441.3 1762.2,437.9 1763.2,434.5 1764.2,431.1 1765.2,427.7 1766.2,424.3 1767.2,420.9 1768.2,417.6 1769.2,414.3 1770.2,411.1 1771.2,408 1772.2,404.9 1773.2,401.9 1774.2,398.9 1775.2,395.9 1776.2,393 1777.2,390 1778.2,387.1 1779.2,384.2 1780.2,381.3 1781.2,378.4 1782.2,375.5 1783.2,372.7 1784.2,369.9 1785.2,367.1 1786.2,364.3 1787.2,361.6 1788.2,358.8 1789.2,356.1 1790.2,353.4 1791.2,350.8 1792.2,348.1 1793.2,345.5 1794.2,342.9 1795.2,340.3 1796.2,337.8 1797.2,335.3 1798.2,332.8 1799.2,330.3 1800.2,327.8 1801.2,325.4 1802.2,323 1803.2,320.6 1804.2,318.2 1805.2,315.8 1806.2,313.4 1807.2,310.9 1808.2,308.4 1809.2,305.9 1810.2,303.4 1811.2,300.9 1812.2,298.4 1813.2,295.9 1814.2,293.4 1815.2,290.9 1816.2,288.5 1817.2,286 1818.2,283.6 1819.2,281.2 1820.2,278.9 1821.2,276.6 1822.2,274.3 1823.2,272.1 1824.2,269.9 1825.2,267.8 1826.2,265.8 1827.2,263.8 1828.2,261.9 1829.2,260 1830.2,258.3 1831.2,256.6 1832.2,255 1833.2,253.5 1834.2,252.2 1835.2,250.9 1836.2,249.7 1837.2,248.6 1838.2,247.7 1839.2,246.8 1840.2,245.9 1841.2,245.1 1842.2,244.2 1843.2,243.4 1844.2,242.6 1845.2,241.8 1846.2,241 1847.2,240.3 1848.2,239.6 1849.2,239 1850.2,238.4 1851.2,237.9 1852.2,237.4 1853.2,236.9 1854.2,236.5 1855.2,236.2 1856.2,236 1857.2,235.8 1858.2,235.7 1859.2,235.7 1860.2,235.9 1861.2,236.1 1862.2,236.3 1863.2,236.7 1864.2,237.1 1865.2,237.6 1866.2,238.1 1867.2,238.7 1868.2,239.3 1869.2,240 1870.2,240.8 1871.2,241.5 1872.2,242.3 1873.2,243.1 1874.2,244 1875.2,244.8 1876.2,245.7 1877.2,246.6 1878.2,247.5 1879.2,248.4 1880.2,249.5 1881.2,250.7 1882.2,252 1883.2,253.4 1884.2,255 1885.2,256.6 1886.2,258.3 1887.2,260.2 1888.2,262.1 1889.2,264.1 1890.2,266.2 1891.2,268.3 1892.2,270.5 1893.2,272.8 1894.2,275.2 1895.2,277.6 1896.2,280 1897.2,282.6 1898.2,285.1 1899.2,287.7 1900.2,290.3 1901.2,292.9 1902.2,295.6 1903.2,298.3 1904.2,301 1905.2,303.7 1906.2,306.4 1907.2,309.1 1908.2,311.8 1909.2,314.5 1910.2,317.2 1911.2,319.8 1912.2,322.5 1913.2,325.2 1914.2,328.1 1915.2,331 1916.2,334 1917.2,337.1 1918.2,340.2 1919.2,343.4 1920.2,346.7 1921.2,350 1922.2,353.3 1923.2,356.7 1924.2,360 1925.2,363.4 1926.2,366.8 1927.2,370.2 1928.2,373.6 1929.2,377 1930.2,380.4 1931.2,383.7 1932.2,387 1933.2,390.3 1934.2,393.6 1935.2,396.7 1936.2,399.9 1937.2,403 1938.2,406.1 1939.2,409.1 1940.2,412.2 1941.2,415.3 1942.2,418.3 1943.2,421.4 1944.2,424.4 1945.2,427.5 1946.2,430.5 1947.2,433.6 1948.2,436.7 1949.2,439.8 1950.2,442.9 1951.2,446.1 1952.2,449.3 1953.2,452.6 1954.2,456 1955.2,459.5 1956.2,463.1 1957.2,466.6 1958.2,470.2 1959.2,473.6 1960.2,477.1 1961.2,480.3 1962.2,483.5 1963.2,486.4 1964.2,489.2 1965.2,491.7 1966.2,494.2 1967.2,496.6 1968.2,499 1969.2,501.3 1970.2,503.7 1971.2,506 1972.2,508.2 1973.2,510.4 1974.2,512.6 1975.2,514.8 1976.2,516.9 1977.2,519 1978.2,521 1979.2,523.1 1980.2,525.1 1981.2,527 1982.2,529 1983.2,530.9 1984.2,532.8 1985.2,534.7 1986.2,536.5 1987.2,538.3 1988.2,540.1 1989.2,541.9 1990.2,543.7 1991.2,545.4 1992.2,547.1 1993.2,548.8 1994.2,550.4 1995.2,552.1 1996.2,553.7 1997.2,555.3 1998.2,556.9 1999.2,558.5 2000.2,560.1 2001.2,561.6 2002.2,563.1 2003.2,564.7 2004.2,566.2 2005.2,567.7 2006.2,569.1 2007.2,570.6 2008.2,572.1 2009.2,573.5 2010.2,575 2011.2,576.4 2012.2,577.8 2013.2,579.2 2014.2,580.6 2015.2,582 2016.2,583.4 2017.2,584.8 2018.2,586.2 2019.2,587.5 2020.2,588.9 2021.2,590.2 2022.2,591.5 2023.2,592.8 2024.2,594.1 2025.2,595.4 2026.2,596.7 2027.2,597.9 2028.2,599.1 2029.2,600.3 2030.2,601.5 2031.2,602.7 2032.2,603.8 2033.2,605 2034.2,606.1 2035.2,607.1 2036.2,608.2 2037.2,609.2 2038.2,610.2 2039.2,611.2 2040.2,612.2 2041.2,613.1 2042.2,614 2043.2,614.8 2044.2,615.7 2045.2,616.5 2046.2,617.3 2047.2,618.1 2048.2,618.8 2049.2,619.6 2050.2,620.3 2051.2,621.1 2052.2,621.8 2053.2,622.5 2054.2,623.2 2055.2,623.9 2056.2,624.6 2057.2,625.3 2058.2,625.9 2059.2,626.6 2060.2,627.2 2061.2,627.9 2062.2,628.5 2063.2,629.1 2064.2,629.7 2065.2,630.3 2066.2,630.9 2067.2,631.4 2068.2,632 2069.2,632.5 2070.2,633 2071.2,633.6 2072.2,634.1 2073.2,634.5 2074.2,635 2075.2,635.5 2076.2,635.9 2077.2,636.3 2078.2,636.8 2079.2,637.2 2080.2,637.6 2081.2,637.9 2082.2,638.3 2083.2,638.6 2084.2,639 2085.2,639.3 2086.2,639.7 2087.2,640 2088.2,640.3 2089.2,640.7 2090.2,641 2091.2,641.3 2092.2,641.6 2093.2,641.9 2094.2,642.2 2095.2,642.4 2096.2,642.7 2097.2,643 2098.2,643.2 2099.2,643.5 2100.2,643.7 2101.2,644 2102.2,644.2 2103.2,644.4 2104.2,644.6 2105.2,644.8 2106.2,645 2107.2,645.2 2108.2,645.4 2109.2,645.6 2110.2,645.7 2111.2,645.8 2112.2,646 2113.2,646.1 2114.2,646.3 2115.2,646.4 2116.2,646.5 2117.2,646.7 2118.2,646.8 2119.2,646.9 2120.2,647.1 2121.2,647.2 2122.2,647.3 2123.2,647.4 2124.2,647.5 2125.2,647.6 2126.2,647.7 2127.2,647.8 2128.2,647.9 2129.2,648 2130.2,648.1 2131.2,648.2 2132.2,648.2 2133.2,648.3 2134.2,648.3 2135.2,648.4 2136.2,648.4 2137.2,648.4 2138.2,648.4 2139.2,648.4 2140.2,648.4 2141.2,648.4 2142.2,648.4 2143.2,648.4 2144.2,648.4 2145.2,648.4 2146.2,648.4 2147.2,648.4 2148.2,648.4 2149.2,648.4 2150,635 2150.2,626.1 2150.7,603.8 2150.9,609.4 2151.2,616.5 2151.5,622.3 2152.2,641.8 2153.2,649.8 2154.2,653.9 2155.2,656 2156.2,657 2157.2,657.6 2158.2,657.9 2159.2,658 2160.2,658.1 2161.2,658.1 2162.2,658.2 2163.2,658.2 2164.2,658.2 2165.2,658.2 2166.2,658.2 2167.2,658.2 2168.2,658.2 2169.2,658.2 2170.2,658.2 2171.2,658.2 2172.2,658.2 2173.2,658.2 2174.2,658.2 2175.2,658.2 2176.2,658.2 2177.2,658.2 2178.2,658.2 2179.2,658.2 2180.2,658.2 2181.2,658.2 2182.2,658.2 2183.2,658.2 2184.2,658.2 2185.2,658.2 2186.2,658.2 2187.2,658.2 2188.2,658.2 2189.2,658.2 2190.2,658.2 2191.2,658.2 2192.2,658.2 2193.2,658.2 2194.2,658.2 2195.2,658.2 2196.2,658.2 2197.2,658.2 2198.2,658.2 2199.2,658.2 2200.2,658.2 2201.2,658.2 2202.2,658.2 2203.2,658.2 2204.2,658.2 2205.2,658.2 2206.2,658.2 2207.2,658.2 2208.2,658.2 2209.2,658.2 2210.2,658.2 2211.2,658.2 2212.2,658.2 2213.2,658.2 2214.2,658.2 2215.2,658.2 2216.2,658.2 2217.2,658.2 2218.2,658.2 2219.2,658.2 2220.2,658.2 2221.2,658.2 2222.2,658.2 2223.2,658.2 2224.2,658.2 2225.2,658.2 2226.2,658.2 2227.2,658.2 2228.2,658.2 2229.2,658.2 2230.2,658.2 2231.2,658.2 2232.2,658.2 2233.2,658.2 2234.2,658.2 2235.2,658.2 2236.2,658.2 2237.2,658.2 2238.2,658.2 2239.2,658.2 2240.2,658.2 2241.2,658.2 2242.2,658.2 2243.2,658.2 2244.2,658.2 2245.2,658.2 2246.2,658.2 2247.2,658.2 2248.2,658.2 2249.2,658.2 2250.2,658.2 2251.2,658.2 2252.2,658.2" fill="none" stroke="#1a1a1a" stroke-width="2" stroke-linejoin="round"/>
<polyline points="1445.2,655.1 1446.2,655.1 1447.2,655.2 1448.2,655.2 1449.2,655.3 1450.2,655.3 1451.2,655.3 1452.2,655.4 1453.2,655.4 1454.2,655.4 1455.2,655.4 1456.2,655.5 1457.2,655.5 1458.2,655.5 1459.2,655.5 1460.2,655.6 1461.2,655.6 1462.2,655.6 1463.2,655.6 1464.2,655.6 1465.2,655.6 1466.2,655.6 1467.2,655.6 1468.2,655.6 1469.2,655.6 1470.2,655.6 1471.2,655.6 1472.2,655.6 1473.2,655.6 1474.2,655.6 1475.2,655.6 1476.2,655.6 1477.2,655.6 1478.2,655.5 1479.2,655.5 1480.2,655.5 1481.2,655.5 1482.2,655.4 1483.2,655.4 1484.2,655.4 1485.2,655.4 1486.2,655.3 1487.2,655.3 1488.2,655.3 1489.2,655.2 1490.2,655.2 1491.2,655.1 1492.2,655.1 1493.2,655.1 1494.2,655 1495.2,655 1496.2,655 1497.2,654.9 1498.2,654.9 1499.2,654.9 1500.2,654.8 1501.2,654.8 1502.2,654.7 1503.2,654.7 1504.2,654.7 1505.2,654.6 1506.2,654.6 1507.2,654.6 1508.2,654.6 1509.2,654.5 1510.2,654.5 1511.2,654.5 1512.2,654.5 1513.2,654.4 1514.2,654.4 1515.2,654.4 1516.2,654.4 1517.2,654.4 1518.2,654.4 1519.2,654.4 1520.2,654.4 1521.2,654.4 1522.2,654.4 1523.2,654.4 1524.2,654.4 1525.2,654.4 1526.2,654.4 1527.2,654.4 1528.2,654.4 1529.2,654.4 1530.2,654.4 1531.2,654.4 1532.2,654.5 1533.2,654.5 1534.2,654.5 1535.2,654.5 1536.2,654.6 1537.2,654.6 1538.2,654.6 1539.2,654.7 1540.2,654.7 1541.2,654.7 1542.2,654.8 1543.2,654.8 1544.2,654.8 1545.2,654.9 1546.2,654.9 1547.2,654.9 1548.2,655 1549.2,655 1550.2,655 1551.2,655.1 1552.2,655.1 1553.2,655.2 1554.2,655.2 1555.2,655.2 1556.2,655.3 1557.2,655.3 1558.2,655.3 1559.2,655.4 1560.2,655.4 1561.2,655.4 1562.2,655.4 1563.2,655.5 1564.2,655.5 1565.2,655.5 1566.2,655.5 1567.2,655.6 1568.2,655.6 1569.2,655.6 1569.4,655.6 1570.2,612.4 1570.6,589 1571,597.3 1571.2,601 1572.2,615.9 1573.2,626 1574.2,632.8 1575.2,637.5 1576.2,640.7 1577.2,642.8 1578.2,644.3 1579.2,645.3 1580.2,645.9 1581.2,646.3 1582.2,646.6 1583.2,646.8 1584.2,646.9 1585.2,647.2 1586.2,647.1 1587.2,647.1 1588.2,647 1589.2,647 1590.2,646.9 1591.2,646.9 1592.2,646.8 1593.2,646.8 1594.2,646.7 1595.2,646.6 1596.2,646.6 1597.2,646.5 1598.2,646.4 1599.2,646.4 1600.2,646.3 1601.2,646.2 1602.2,646.1 1603.2,646 1604.2,646 1605.2,645.9 1606.2,645.8 1607.2,645.6 1608.2,645.5 1609.2,645.2 1610.2,645 1611.2,644.7 1612.2,644.4 1613.2,644.1 1614.2,643.8 1615.2,643.4 1616.2,643 1617.2,642.6 1618.2,642.2 1619.2,641.8 1620.2,641.3 1621.2,640.8 1622.2,640.4 1623.2,639.9 1624.2,639.4 1625.2,638.9 1626.2,638.5 1627.2,638 1628.2,637.5 1629.2,637 1630.2,636.6 1631.2,636.1 1632.2,635.6 1633.2,635.1 1634.2,634.6 1635.2,634.1 1636.2,633.6 1637.2,633.1 1638.2,632.5 1639.2,632 1640.2,631.4 1641.2,630.8 1642.2,630.3 1643.2,629.7 1644.2,629.1 1645.2,628.5 1646.2,627.8 1647.2,627.2 1648.2,626.6 1649.2,625.9 1650.2,625.3 1651.2,624.6 1652.2,623.9 1653.2,623.3 1654.2,622.6 1655.2,621.9 1656.2,621.2 1657.2,620.5 1658.2,619.8 1659.2,619.1 1660.2,618.3 1661.2,617.6 1662.2,616.9 1663.2,616.1 1664.2,615.4 1665.2,614.7 1666.2,613.9 1667.2,613.2 1668.2,612.4 1669.2,611.6 1670.2,610.9 1671.2,610.1 1672.2,609.3 1673.2,608.5 1674.2,607.7 1675.2,606.9 1676.2,606.1 1677.2,605.3 1678.2,604.4 1679.2,603.6 1680.2,602.7 1681.2,601.9 1682.2,601 1683.2,600.1 1684.2,599.2 1685.2,598.3 1686.2,597.3 1687.2,596.4 1688.2,595.4 1689.2,594.5 1690.2,593.5 1691.2,592.5 1692.2,591.4 1693.2,590.4 1694.2,589.3 1695.2,588.3 1696.2,587.2 1697.2,586 1698.2,584.9 1699.2,583.8 1700.2,582.6 1701.2,581.4 1702.2,580.2 1703.2,579 1704.2,577.7 1705.2,576.4 1706.2,575.1 1707.2,573.8 1708.2,572.4 1709.2,570.9 1710.2,569.5 1711.2,567.9 1712.2,566.3 1713.2,564.7 1714.2,563 1715.2,561.3 1716.2,559.6 1717.2,557.8 1718.2,555.9 1719.2,554.1 1720.2,552.1 1721.2,550.2 1722.2,548.2 1723.2,546.1 1724.2,544.1 1725.2,542 1726.2,539.8 1727.2,537.7 1728.2,535.5 1729.2,533.2 1730.2,530.9 1731.2,528.6 1732.2,526.3 1733.2,524 1734.2,521.6 1735.2,519.1 1736.2,516.7 1737.2,514.2 1738.2,511.7 1739.2,509.2 1740.2,506.7 1741.2,504.1 1742.2,501.5 1743.2,498.9 1744.2,496.3 1745.2,493.7 1746.2,491 1747.2,488.3 1748.2,485.3 1749.2,482.3 1750.2,479.1 1751.2,475.7 1752.2,472.3 1753.2,468.9 1754.2,465.3 1755.2,461.8 1756.2,458.3 1757.2,454.8 1758.2,451.4 1759.2,448 1760.2,444.7 1761.2,441.3 1762.2,437.9 1763.2,434.5 1764.2,431.1 1765.2,427.7 1766.2,424.3 1767.2,420.9 1768.2,417.6 1769.2,414.3 1770.2,411.1 1771.2,408 1772.2,404.9 1773.2,401.9 1774.2,398.9 1775.2,395.9 1776.2,393 1777.2,390 1778.2,387.1 1779.2,384.2 1780.2,381.3 1781.2,378.4 1782.2,375.5 1783.2,372.7 1784.2,369.9 1785.2,367.1 1786.2,364.3 1787.2,361.6 1788.2,358.8 1789.2,356.1 1790.2,353.4 1791.2,350.8 1792.2,348.1 1793.2,345.5 1794.2,342.9 1795.2,340.3 1796.2,337.8 1797.2,335.3 1798.2,332.8 1799.2,330.3 1800.2,327.8 1801.2,325.4 1802.2,323 1803.2,320.6 1804.2,318.2 1805.2,315.8 1806.2,313.4 1807.2,310.9 1808.2,308.4 1809.2,305.9 1810.2,303.4 1811.2,300.9 1812.2,298.4 1813.2,295.9 1814.2,293.4 1815.2,290.9 1816.2,288.5 1817.2,286 1818.2,283.6 1819.2,281.2 1820.2,278.9 1821.2,276.6 1822.2,274.3 1823.2,272.1 1824.2,269.9 1825.2,267.8 1826.2,265.8 1827.2,263.8 1828.2,261.9 1829.2,260 1830.2,258.3 1831.2,256.6 1832.2,255 1833.2,253.5 1834.2,252.2 1835.2,250.9 1836.2,249.7 1837.2,248.6 1838.2,247.7 1839.2,246.8 1840.2,245.9 1841.2,245.1 1842.2,244.2 1843.2,243.4 1844.2,242.6 1845.2,241.8 1846.2,241 1847.2,240.3 1848.2,239.6 1849.2,239 1850.2,238.4 1851.2,237.9 1852.2,237.4 1853.2,236.9 1854.2,236.5 1855.2,236.2 1856.2,236 1857.2,235.8 1858.2,235.7 1859.2,235.8 1860.2,235.9 1861.2,236.1 1862.2,236.4 1863.2,236.7 1864.2,237.1 1865.2,237.6 1866.2,238 1867.2,238.6 1868.2,239.1 1869.2,239.7 1870.2,240.4 1871.2,241 1872.2,241.7 1873.2,242.4 1874.2,243.2 1875.2,243.9 1876.2,244.7 1877.2,245.5 1878.2,246.2 1879.2,247.1 1880.2,248 1881.2,249 1882.2,250 1883.2,251.2 1884.2,252.4 1885.2,253.7 1886.2,255.1 1887.2,256.5 1888.2,258 1889.2,259.6 1890.2,261.3 1891.2,263 1892.2,264.7 1893.2,266.6 1894.2,268.4 1895.2,270.4 1896.2,272.3 1897.2,274.4 1898.2,276.4 1899.2,278.5 1900.2,280.7 1901.2,282.9 1902.2,285.1 1903.2,287.3 1904.2,289.6 1905.2,291.9 1906.2,294.3 1907.2,296.7 1908.2,299 1909.2,301.4 1910.2,303.9 1911.2,306.3 1912.2,308.8 1913.2,311.2 1914.2,313.7 1915.2,316.2 1916.2,318.6 1917.2,321.1 1918.2,323.7 1919.2,326.4 1920.2,329.3 1921.2,332.2 1922.2,335.3 1923.2,338.5 1924.2,341.7 1925.2,345.1 1926.2,348.5 1927.2,352 1928.2,355.5 1929.2,359 1930.2,362.6 1931.2,366.2 1932.2,369.8 1933.2,373.5 1934.2,377.1 1935.2,380.6 1936.2,384.2 1937.2,387.7 1938.2,391.2 1939.2,394.6 1940.2,397.9 1941.2,401.1 1942.2,404.3 1943.2,407.4 1944.2,410.4 1945.2,413.4 1946.2,416.3 1947.2,419.2 1948.2,422.1 1949.2,425 1950.2,427.8 1951.2,430.6 1952.2,433.5 1953.2,436.3 1954.2,439.1 1955.2,442 1956.2,444.8 1957.2,447.7 1958.2,450.6 1959.2,453.6 1960.2,456.6 1961.2,459.6 1962.2,462.6 1963.2,465.7 1964.2,468.7 1965.2,471.7 1966.2,474.6 1967.2,477.6 1968.2,480.4 1969.2,483.2 1970.2,485.9 1971.2,488.5 1972.2,490.9 1973.2,493.4 1974.2,495.8 1975.2,498.2 1976.2,500.6 1977.2,503 1978.2,505.3 1979.2,507.6 1980.2,509.9 1981.2,512.2 1982.2,514.5 1983.2,516.8 1984.2,519 1985.2,521.2 1986.2,523.4 1987.2,525.6 1988.2,527.7 1989.2,529.9 1990.2,532 1991.2,534.1 1992.2,536.1 1993.2,538.2 1994.2,540.2 1995.2,542.2 1996.2,544.2 1997.2,546.1 1998.2,548.1 1999.2,550 2000.2,551.9 2001.2,553.7 2002.2,555.6 2003.2,557.4 2004.2,559.2 2005.2,561 2006.2,562.7 2007.2,564.4 2008.2,566.1 2009.2,567.8 2010.2,569.4 2011.2,571 2012.2,572.6 2013.2,574.2 2014.2,575.7 2015.2,577.2 2016.2,578.7 2017.2,580.2 2018.2,581.7 2019.2,583.2 2020.2,584.6 2021.2,586.1 2022.2,587.5 2023.2,588.9 2024.2,590.3 2025.2,591.7 2026.2,593.1 2027.2,594.5 2028.2,595.8 2029.2,597.1 2030.2,598.4 2031.2,599.7 2032.2,601 2033.2,602.2 2034.2,603.4 2035.2,604.6 2036.2,605.8 2037.2,606.9 2038.2,608.1 2039.2,609.2 2040.2,610.2 2041.2,611.3 2042.2,612.3 2043.2,613.3 2044.2,614.2 2045.2,615.2 2046.2,616.1 2047.2,616.9 2048.2,617.8 2049.2,618.6 2050.2,619.4 2051.2,620.2 2052.2,620.9 2053.2,621.7 2054.2,622.5 2055.2,623.2 2056.2,623.9 2057.2,624.7 2058.2,625.4 2059.2,626.1 2060.2,626.8 2061.2,627.4 2062.2,628.1 2063.2,628.8 2064.2,629.4 2065.2,630 2066.2,630.6 2067.2,631.2 2068.2,631.8 2069.2,632.4 2070.2,633 2071.2,633.5 2072.2,634.1 2073.2,634.6 2074.2,635.1 2075.2,635.6 2076.2,636.1 2077.2,636.5 2078.2,637 2079.2,637.4 2080.2,637.8 2081.2,638.3 2082.2,638.7 2083.2,639 2084.2,639.4 2085.2,639.8 2086.2,640.1 2087.2,640.5 2088.2,640.8 2089.2,641.2 2090.2,641.5 2091.2,641.8 2092.2,642.2 2093.2,642.5 2094.2,642.8 2095.2,643.1 2096.2,643.4 2097.2,643.7 2098.2,644 2099.2,644.2 2100.2,644.5 2101.2,644.7 2102.2,645 2103.2,645.2 2104.2,645.4 2105.2,645.6 2106.2,645.8 2107.2,646 2108.2,646.2 2109.2,646.4 2110.2,646.6 2111.2,646.7 2112.2,646.8 2113.2,647 2114.2,647.1 2115.2,647.3 2116.2,647.4 2117.2,647.5 2118.2,647.7 2119.2,647.8 2120.2,647.9 2121.2,648 2122.2,648.2 2123.2,648.3 2124.2,648.4 2125.2,648.5 2126.2,648.6 2127.2,648.7 2128.2,648.8 2129.2,648.9 2130.2,648.9 2131.2,649 2132.2,649.1 2133.2,649.1 2134.2,649.2 2135.2,649.2 2136.2,649.2 2137.2,649.3 2138.2,649.3 2139.2,649.3 2140.2,649.3 2141.2,649.3 2142.2,649.3 2143.2,649.3 2144.2,649.3 2145.2,649.3 2146.2,649.3 2147.2,649.3 2148.2,649.3 2149.2,649.3 2150,644.3 2150.2,634.4 2150.7,609.5 2150.9,599.6 2151.2,607.2 2151.5,613.7 2152.2,630.8 2153.2,641 2154.2,646.9 2155.2,650.2 2156.2,652.1 2157.2,653.2 2158.2,653.8 2159.2,654.2 2160.2,654.4 2161.2,654.4 2162.2,654.5 2163.2,654.5 2164.2,654.5 2165.2,654.5 2166.2,654.5 2167.2,654.5 2168.2,654.5 2169.2,654.4 2170.2,654.4 2171.2,654.4 2172.2,654.4 2173.2,654.4 2174.2,654.4 2175.2,654.4 2176.2,654.4 2177.2,654.4 2178.2,654.4 2179.2,654.4 2180.2,654.4 2181.2,654.4 2182.2,654.4 2183.2,654.4 2184.2,654.4 2185.2,654.4 2186.2,654.4 2187.2,654.4 2188.2,654.4 2189.2,654.5 2190.2,654.5 2191.2,654.5 2192.2,654.5 2193.2,654.5 2194.2,654.6 2195.2,654.6 2196.2,654.6 2197.2,654.6 2198.2,654.7 2199.2,654.7 2200.2,654.7 2201.2,654.8 2202.2,654.8 2203.2,654.8 2204.2,654.8 2205.2,654.9 2206.2,654.9 2207.2,654.9 2208.2,655 2209.2,655 2210.2,655 2211.2,655.1 2212.2,655.1 2213.2,655.1 2214.2,655.2 2215.2,655.2 2216.2,655.2 2217.2,655.3 2218.2,655.3 2219.2,655.3 2220.2,655.4 2221.2,655.4 2222.2,655.4 2223.2,655.4 2224.2,655.5 2225.2,655.5 2226.2,655.5 2227.2,655.5 2228.2,655.5 2229.2,655.6 2230.2,655.6 2231.2,655.6 2232.2,655.6 2233.2,655.6 2234.2,655.6 2235.2,655.6 2236.2,655.6 2237.2,655.6 2238.2,655.6 2239.2,655.6 2240.2,655.6 2241.2,655.6 2242.2,655.6 2243.2,655.6 2244.2,655.6 2245.2,655.6 2246.2,655.6 2247.2,655.6 2248.2,655.5 2249.2,655.5 2250.2,655.5 2251.2,655.5 2252.2,655.5" fill="none" stroke="#ff0000" stroke-width="3.4" stroke-linejoin="round" stroke-dasharray="9.5 5.5"/>
<rect x="1443.7" y="24.6" width="809.8" height="635.7" fill="none" stroke="#0c0c0c" stroke-width="4" stroke-linejoin="round"/>
<line x1="1443.7" y1="660.3" x2="1467.7" y2="660.3" stroke="#0c0c0c" stroke-width="3.5"/>
<line x1="1443.7" y1="617.8" x2="1455.7" y2="617.8" stroke="#0c0c0c" stroke-width="3.5"/>
<line x1="1443.7" y1="575.4" x2="1467.7" y2="575.4" stroke="#0c0c0c" stroke-width="3.5"/>
<line x1="1443.7" y1="532.9" x2="1455.7" y2="532.9" stroke="#0c0c0c" stroke-width="3.5"/>
<line x1="1443.7" y1="490.5" x2="1467.7" y2="490.5" stroke="#0c0c0c" stroke-width="3.5"/>
<line x1="1443.7" y1="448" x2="1455.7" y2="448" stroke="#0c0c0c" stroke-width="3.5"/>
<line x1="1443.7" y1="405.5" x2="1467.7" y2="405.5" stroke="#0c0c0c" stroke-width="3.5"/>
<line x1="1443.7" y1="363.1" x2="1455.7" y2="363.1" stroke="#0c0c0c" stroke-width="3.5"/>
<line x1="1443.7" y1="320.6" x2="1467.7" y2="320.6" stroke="#0c0c0c" stroke-width="3.5"/>
<line x1="1443.7" y1="278.2" x2="1455.7" y2="278.2" stroke="#0c0c0c" stroke-width="3.5"/>
<line x1="1443.7" y1="235.7" x2="1467.7" y2="235.7" stroke="#0c0c0c" stroke-width="3.5"/>
<line x1="1443.7" y1="193.2" x2="1455.7" y2="193.2" stroke="#0c0c0c" stroke-width="3.5"/>
<line x1="1443.7" y1="150.8" x2="1467.7" y2="150.8" stroke="#0c0c0c" stroke-width="3.5"/>
<line x1="1443.7" y1="108.3" x2="1455.7" y2="108.3" stroke="#0c0c0c" stroke-width="3.5"/>
<line x1="1443.7" y1="65.9" x2="1467.7" y2="65.9" stroke="#0c0c0c" stroke-width="3.5"/>
<text transform="translate(1419.5,679.5)" font-size="67.00" text-anchor="end">0.0</text>
<text transform="translate(1419.5,594.6)" font-size="67.00" text-anchor="end">0.2</text>
<text transform="translate(1419.5,509.7)" font-size="67.00" text-anchor="end">0.4</text>
<text transform="translate(1419.5,424.7)" font-size="67.00" text-anchor="end">0.6</text>
<text transform="translate(1419.5,339.8)" font-size="67.00" text-anchor="end">0.8</text>
<text transform="translate(1419.5,254.9)" font-size="67.00" text-anchor="end">1.0</text>
<text transform="translate(1419.5,170)" font-size="67.00" text-anchor="end">1.2</text>
<text transform="translate(1419.5,85.1)" font-size="67.00" text-anchor="end">1.4</text>
<line x1="1504.3" y1="660.3" x2="1504.3" y2="649.3" stroke="#0c0c0c" stroke-width="3.5"/>
<line x1="1605.4" y1="660.3" x2="1605.4" y2="638.3" stroke="#0c0c0c" stroke-width="3.5"/>
<line x1="1706.5" y1="660.3" x2="1706.5" y2="649.3" stroke="#0c0c0c" stroke-width="3.5"/>
<line x1="1807.6" y1="660.3" x2="1807.6" y2="638.3" stroke="#0c0c0c" stroke-width="3.5"/>
<line x1="1908.7" y1="660.3" x2="1908.7" y2="649.3" stroke="#0c0c0c" stroke-width="3.5"/>
<line x1="2009.8" y1="660.3" x2="2009.8" y2="638.3" stroke="#0c0c0c" stroke-width="3.5"/>
<line x1="2110.9" y1="660.3" x2="2110.9" y2="649.3" stroke="#0c0c0c" stroke-width="3.5"/>
<line x1="2212" y1="660.3" x2="2212" y2="638.3" stroke="#0c0c0c" stroke-width="3.5"/>
<text transform="translate(1605.4,735.2)" font-size="67.00" text-anchor="middle">1565</text>
<text transform="translate(1807.6,735.2)" font-size="67.00" text-anchor="middle">1570</text>
<text transform="translate(2009.8,735.2)" font-size="67.00" text-anchor="middle">1575</text>
<text transform="translate(2212,735.2)" font-size="67.00" text-anchor="middle">1580</text>
<text transform="translate(1618.9,816.7) scale(0.9783,1.0000)" font-size="67.00">Wavelength (nm)</text>
<text transform="translate(1283.3,680.4) rotate(-90) scale(0.9847,1.0000)" font-size="67.00">Spectral intensity (a.u.)</text>
<text transform="translate(1484.1,109.2) scale(1.0217,1.0000)" font-size="67.00">(b)</text>
<rect x="1770.8" y="24.8" width="482.6" height="128.6" fill="#fff" stroke="#2a2a2a" stroke-width="1.8"/>
<line x1="2253.5" y1="24.6" x2="2253.5" y2="154" stroke="#0c0c0c" stroke-width="4"/>
<line x1="1778" y1="57.4" x2="1889" y2="57.4" stroke="#222" stroke-width="2"/>
<line x1="1775" y1="120.4" x2="1878" y2="120.4" stroke="#ff0000" stroke-width="3.4" stroke-dasharray="17 11.7"/>
<text transform="translate(1900.7,75) scale(0.9884,1.0000)" font-size="50.30">OSA spectrum</text>
<text transform="translate(1900.8,135.3) scale(0.9863,1.0000)" font-size="50.30">Average spectum</text>
<polyline points="235.3,1522.6 236.5,1512.4 237.7,1543.9 238.9,1512.1 240.1,1549.6 241.3,1514.4 242.5,1559.5 243.7,1550.8 244.9,1554.1 246.1,1494 247.3,1512.1 248.5,1494 249.7,1569 250.9,1516.3 252.1,1532.3 253.3,1522.7 254.5,1539.1 255.7,1520.3 256.9,1531 258.1,1528.2 259.3,1514.7 260.5,1553.4 261.7,1561.6 262.9,1528 264.1,1535.3 265.3,1546.9 266.5,1569 267.7,1531.2 268.9,1545.3 270.1,1516.5 271.3,1537.6 272.5,1494 273.7,1499.7 274.9,1534.3 276.1,1530.1 277.3,1531.4 278.5,1537.4 279.7,1537.3 280.9,1540.1 282.1,1524.1 283.3,1546.3 284.5,1519.4 285.7,1557.6 286.9,1517.5 288.1,1534.8 289.3,1533.9 290.5,1541.8 291.7,1536.7 292.9,1555.6 294.1,1539.5 295.3,1523.1 296.5,1553.2 297.7,1541 298.9,1510.8 300.1,1563.5 301.3,1531.2 302.5,1545.6 303.7,1535.4 304.9,1526.6 306.1,1536.5 307.3,1516.2 308.5,1517.3 309.7,1532.7 310.9,1567.9 312.1,1548.4 313.3,1540.9 314.5,1527.4 315.7,1529.3 316.9,1503.4 318.1,1521.5 319.3,1543.2 320.5,1513.7 321.7,1502.2 322.9,1496.6 324.1,1547.2 325.3,1546.1 326.5,1537.3 327.7,1550.4 328.9,1512.7 330.1,1539.6 331.3,1539.8 332.5,1542.8 333.7,1516.5 334.9,1543.2 336.1,1543.6 337.3,1512.3 338.5,1526.3 339.7,1527.4 340.9,1537.5 342.1,1512.3 343.3,1520.2 344.5,1521.4 345.7,1532.9 346.9,1532.1 348.1,1549 349.3,1503.7 350.5,1532.3 351.7,1533 352.9,1533.8 354.1,1506.5 355.3,1544.4 356.5,1552.1 357.7,1532.6 358.9,1517.1 360.1,1545 361.3,1527.8 362.5,1534.8 363.7,1532.7 364.9,1529.5 366.1,1528.4 367.3,1533 368.5,1496.7 369.7,1548.9 370.9,1530.8 372.1,1529.9 373.3,1545 374.5,1535.1 375.7,1538.2 376.9,1546.2 378.1,1526.7 379.3,1515.8 380.5,1533.5 381.7,1541.7 382.9,1544.6 384.1,1515.5 385.3,1526.1 386.5,1548.3 387.7,1538.8 388.9,1539.3 390.1,1538.7 391.3,1503.7 392.5,1525.9 393.7,1528.3 394.9,1500.2 396.1,1536.5 397.3,1520 398.5,1523.3 399.7,1506.1 400.9,1544.6 402.1,1494 403.3,1542.2 404.5,1516.5 405.7,1541.3 406.9,1558.6 408.1,1551.5 409.3,1528.1 410.5,1563.6 411.7,1547.1 412.9,1552.8 414.1,1550.8 415.3,1542.9 416.5,1536.2 417.7,1531.6 418.9,1522.4 420.1,1532.5 421.3,1515.5 422.5,1533.1 423.7,1552.6 424.9,1542.7 426.1,1525.4 427.3,1559.4 428.5,1549.6 429.7,1522.3 430.9,1515.4 432.1,1557.3 433.3,1519.3 434.5,1541.1 435.7,1514.9 436.9,1511.9 438.1,1537.8 439.3,1513.2 440.5,1529.3 441.7,1563.4 442.9,1528.4 444.1,1538.9 445.3,1537.6 446.5,1542.6 447.7,1518.1 448.9,1547.7 450.1,1503 451.3,1507.2 452.5,1520.1 453.7,1516 454.9,1515.7 456.1,1528.6 457.3,1531.2 458.5,1561.1 459.7,1515.8 460.9,1525.7 462.1,1520.8 463.3,1515.8 464.5,1555.1 465.7,1530.2 466.9,1528.2 468.1,1535.2 469.3,1567.9 470.5,1531 471.7,1518.8 472.9,1565.7 474.1,1515.1 475.3,1502.9 476.5,1546.4 477.7,1547 478.9,1504.1 480.1,1512.8 481.3,1518.2 482.5,1518 483.7,1502.2 484.9,1510.7 486.1,1551.8 487.3,1546.8 488.5,1503 489.7,1527.9 490.9,1520.4 492.1,1518.7 493.3,1520.1 494.5,1555 495.7,1511.9 496.9,1518.1 498.1,1517.1 499.3,1529.5 500.5,1519.3 501.7,1525.1 502.9,1506.5 504.1,1548.5 505.3,1507.4 506.5,1543.3 507.7,1502.4 508.9,1509.3 510.1,1521.9 511.3,1518.1 512.5,1528 513.7,1531.8 514.9,1550.2 516.1,1494 517.3,1499.6 518.5,1530.1 519.7,1517.5 520.9,1533.9 522.1,1560.9 523.3,1494 524.5,1533.4 525.7,1526.2 526.9,1515.2 528.1,1545.6 529.3,1518.2 530.5,1545.8 531.7,1549.8 532.9,1548.5 534.1,1497.8 535.3,1516.9 536.5,1501.6 537.7,1521.3 538.9,1519.5 540.1,1565 541.3,1518.1 542.5,1528.8 543.7,1524.6 544.9,1564.7 546.1,1518.1 547.3,1546.2 548.5,1536.1 549.7,1557.2 550.9,1501.1 552.1,1512.7 553.3,1539.1 554.5,1504.9 555.7,1516.7 556.9,1518.6 558.1,1521.8 559.3,1530.4 560.5,1498.3 561.7,1531.8 562.9,1510.9 564.1,1521.5 565.3,1548.1 566.5,1534 567.7,1529 568.9,1560.5 570.1,1513.9 571.3,1553.5 572.5,1529.6 573.7,1533.5 574.9,1518.5 576.1,1518.8 577.3,1513.5 578.5,1529.6 579.7,1532.3 580.9,1541.2 582.1,1513.4 583.3,1551.6 584.5,1520.5 585.7,1531.8 586.9,1500.7 588.1,1514.4 589.3,1537 590.5,1541 591.7,1515.2 592.9,1552.5 594.1,1519.5 595.3,1543.8 596.5,1546 597.7,1542.5 598.9,1521.3 600.1,1519.1 601.3,1545.5 602.5,1500.4 603.7,1513.6 604.9,1511.5 606.1,1522.5 607.3,1549.5 608.5,1524.1 609.7,1529.9 610.9,1519.5 612.1,1569 613.3,1545.7 614.5,1543.4 615.7,1519.5 616.9,1536 618.1,1528.5 619.3,1533.5 620.5,1528.7 621.7,1521 622.9,1507.6 624.1,1516.8 625.3,1530.4 626.5,1517.2 627.7,1562.6 628.9,1538.3 630.1,1535.5 631.3,1544.9 632.5,1506.5 633.7,1510.6 634.9,1515.6 636.1,1536.3 637.3,1528.4 638.5,1555.9 639.7,1532.8 640.9,1541.8 642.1,1531.7 643.3,1533.6 644.5,1528.5 645.7,1526 646.9,1513.5 648.1,1538.4 649.3,1497.2 650.5,1548.1 651.7,1541.2 652.9,1518.9 654.1,1527 655.3,1530.7 656.5,1494 657.7,1534.2 658.9,1526.8 660.1,1551.5 661.3,1519.4 662.5,1532.7 663.7,1511.7 664.9,1548.5 666.1,1522 667.3,1543.9 668.5,1515.2 669.7,1532.1 670.9,1507.2 672.1,1517.8 673.3,1539.4 674.5,1530.5 675.7,1518 676.9,1548.4 678.1,1512.4 679.3,1557.7 680.5,1510 681.7,1530.5 682.9,1556.5 684.1,1502.6 685.3,1547.5 686.5,1537.1 687.7,1535.1 688.9,1521 690.1,1535.1 691.3,1520.6 692.5,1541.6 693.7,1526.9 694.9,1516.3 696.3,1522 696.3,1190 697.6,1100 699.9,1190 699.9,1522 699.7,1532.5 700.9,1520.9 702.1,1511.3 703.3,1520.4 704.5,1536.8 705.7,1542.7 706.9,1506.6 708.1,1518.1 709.3,1530.2 710.5,1530.5 711.7,1541.6 712.9,1537 714.1,1534.7 715.3,1558 716.5,1550.2 717.7,1532.4 718.9,1543.6 720.1,1531.1 721.3,1511.1 722.5,1543.2 723.7,1540 724.9,1551.3 726.1,1515.2 727.3,1507.2 728.5,1535.4 729.7,1535.7 730.9,1537.6 732.1,1555.5 733.3,1524.2 734.5,1525.7 735.7,1522.1 736.9,1529.7 738.1,1510.3 739.3,1540.1 740.5,1518.7 741.7,1530.3 742.9,1524.5 744.1,1523.5 745.3,1539.4 746.5,1526.9 747.7,1519 748.9,1550.8 750.1,1524.5 751.3,1518.1 752.5,1523.4 753.7,1534.8 754.9,1539 756.1,1559.5 757.3,1534.9 758.5,1535.9 759.7,1541.2 760.9,1526.5 762.1,1527.5 763.3,1544.9 764.5,1522.2 765.7,1529.9 766.9,1523.9 768.1,1553 769.3,1533.6 770.5,1517.7 771.7,1527.7 772.9,1552.6 774.1,1544.8 775.3,1540.3 776.5,1519.5 777.7,1564.3 778.9,1540.8 780.1,1538.5 781.3,1514.4 782.5,1532.4 783.7,1533.1 784.9,1519.9 786.1,1500.9 787.3,1533.5 788.5,1500.6 789.7,1512.8 790.9,1516.5 792.1,1527.3 793.3,1516.2 794.5,1536.2 795.7,1538.3 796.9,1534.7 798.1,1516.3 799.3,1495.3 800.5,1544.5 801.7,1539.1 802.9,1535.1 804.1,1540.8 805.3,1513.9 806.5,1540.7 807.7,1522.4 808.9,1509.7 810.1,1535.8 811.3,1508.5 812.5,1515.3 813.7,1554.3 814.9,1515.4 816.1,1543.4 817.3,1535 818.5,1528.3 819.7,1506 820.9,1526.1 822.1,1525.6 823.3,1506.9 824.5,1545.3 825.7,1536.1 826.9,1531.7 828.1,1528.3 829.3,1523.2 830.5,1522.1 831.7,1502.7 832.9,1539 834.1,1515.6 835.3,1559.2 836.5,1507.1 837.7,1533.5 838.9,1559.4 840.1,1517.3 841.3,1505.8 842.5,1536.4 843.7,1552.9 844.9,1515.9 846.1,1532.9 847.3,1535.3 848.5,1515.7 849.7,1535.8 850.9,1548.8 852.1,1538.3 853.3,1505.9 854.5,1533.4 855.7,1528.6 856.9,1516.2 858.1,1513.7 859.3,1524.3 860.5,1494 861.7,1560.4 862.9,1502 864.1,1538.7 865.3,1524.4 866.5,1522.8 867.7,1535 868.9,1541.9 870.1,1510.2 871.3,1549.6 872.5,1531.3 873.7,1514.4 874.9,1505.6 876.1,1542.7 877.3,1522.6 878.5,1518.8 879.7,1536.8 880.9,1510.6 882.1,1517.3 883.3,1517.2 884.5,1494 885.7,1539.9 886.9,1569 888.1,1545.2 889.3,1533.8 890.5,1532 891.7,1528.3 892.9,1543.5 894.1,1542.7 895.3,1532.5 896.5,1533.6 897.7,1544.5 898.9,1541.7 900.1,1554.5 901.3,1551.3 902.5,1535.7 903.7,1523.9 904.9,1554.2 906.1,1527.9 907.3,1538.7 908.5,1540.2 909.7,1544.8 910.9,1547.9 912.1,1528.2 913.3,1541.5 914.5,1533.4 915.7,1541.7 916.9,1522.7 918.1,1529.1 919.3,1530.2 920.5,1558.1 921.7,1527.5 922.9,1550.3 924.1,1525.7 925.3,1513.3 926.5,1540.8 927.7,1550.7 928.9,1540 930.1,1537.1 931.3,1542.5 932.5,1530.3 933.7,1561.8 934.9,1529.6 936.1,1552.1 937.3,1510.8 938.5,1540.5 939.7,1542.6 940.9,1536.7 942.1,1494 943.3,1541.4 944.5,1533.8 945.7,1529.9 946.9,1526 948.1,1533.7 949.3,1537.6 950.5,1555 951.7,1536.8 952.9,1534.2 954.1,1512.5 955.3,1527.9 956.5,1508.9 957.7,1549.8 958.9,1503.1 960.1,1526.3 961.3,1533.5 962.5,1539.5 963.7,1525.5 964.9,1533.5 966.1,1523.8 967.3,1515.3 968.5,1502 969.7,1510.8 970.9,1530.3 972.1,1548.9 973.3,1510.3 974.5,1520.6 975.7,1521.6 976.9,1559 978.1,1530.5 979.3,1540.3 980.5,1517.2 981.7,1537.8 982.9,1541.1 984.1,1531.1 985.3,1512.1 986.5,1551.2 987.7,1522.4 988.9,1556.4 990.1,1508.1 991.3,1535.4 992.5,1531.6 993.7,1501.9 994.9,1527.3 996.1,1555.2 997.3,1519.8 998.5,1539.4 999.7,1526.5 1000.9,1519.8 1002.1,1530.2 1003.3,1520.8 1004.5,1515.6 1005.7,1523.8 1006.9,1524.7 1008.1,1520.7 1009.3,1503.1 1010.5,1496.2 1011.7,1512.4 1012.9,1542.6 1014.1,1494 1015.3,1539.7 1016.5,1520.2 1017.7,1508.1 1018.9,1524.4 1020.1,1551.5 1021.3,1521.4 1022.5,1538.1 1023.7,1539 1024.9,1527.8 1026.1,1545.9 1027.3,1519.5 1028.5,1514.9 1029.7,1557.9 1030.9,1545.2 1032.1,1553.2 1033.3,1503.8 1034.5,1535.9 1035.7,1512.3 1036.9,1563.5 1038.1,1505.8 1039.3,1511.6 1040.5,1520.2 1041.7,1537.8" fill="none" stroke="#000" stroke-width="1.9" stroke-linejoin="round"/>
<line x1="697.6" y1="1092" x2="697.6" y2="1116" stroke="#111" stroke-width="1.5"/>
<line x1="697.7" y1="1114" x2="697.7" y2="1190" stroke="#0a0a0a" stroke-width="3.2"/>
<line x1="699.9" y1="1190" x2="699.9" y2="1522" stroke="#4a4a4a" stroke-width="1.6"/>
<line x1="696.3" y1="1190" x2="696.3" y2="1522" stroke="#4a4a4a" stroke-width="1.6"/>
<rect x="233.8" y="935.8" width="809.7" height="635.8" fill="none" stroke="#0c0c0c" stroke-width="4" stroke-linejoin="round"/>
<line x1="233.8" y1="971.4" x2="257.8" y2="971.4" stroke="#0c0c0c" stroke-width="3.5"/>
<line x1="233.8" y1="1042.1" x2="245.8" y2="1042.1" stroke="#0c0c0c" stroke-width="3.5"/>
<line x1="233.8" y1="1112.7" x2="257.8" y2="1112.7" stroke="#0c0c0c" stroke-width="3.5"/>
<line x1="233.8" y1="1183.4" x2="245.8" y2="1183.4" stroke="#0c0c0c" stroke-width="3.5"/>
<line x1="233.8" y1="1254.1" x2="257.8" y2="1254.1" stroke="#0c0c0c" stroke-width="3.5"/>
<line x1="233.8" y1="1324.8" x2="245.8" y2="1324.8" stroke="#0c0c0c" stroke-width="3.5"/>
<line x1="233.8" y1="1395.4" x2="257.8" y2="1395.4" stroke="#0c0c0c" stroke-width="3.5"/>
<line x1="233.8" y1="1466.1" x2="245.8" y2="1466.1" stroke="#0c0c0c" stroke-width="3.5"/>
<line x1="233.8" y1="1536.8" x2="257.8" y2="1536.8" stroke="#0c0c0c" stroke-width="3.5"/>
<text transform="translate(209.3,989.6)" font-size="67.00" text-anchor="end">-20</text>
<text transform="translate(209.3,1130.9)" font-size="67.00" text-anchor="end">-40</text>
<text transform="translate(209.3,1272.3)" font-size="67.00" text-anchor="end">-60</text>
<text transform="translate(209.3,1413.6)" font-size="67.00" text-anchor="end">-80</text>
<text transform="translate(209.3,1557.2)" font-size="67.00" text-anchor="end">-100</text>
<line x1="235.1" y1="1571.6" x2="235.1" y2="1560.6" stroke="#0c0c0c" stroke-width="3.5"/>
<line x1="357.2" y1="1571.6" x2="357.2" y2="1549.6" stroke="#0c0c0c" stroke-width="3.5"/>
<line x1="479.4" y1="1571.6" x2="479.4" y2="1560.6" stroke="#0c0c0c" stroke-width="3.5"/>
<line x1="601.5" y1="1571.6" x2="601.5" y2="1549.6" stroke="#0c0c0c" stroke-width="3.5"/>
<line x1="723.7" y1="1571.6" x2="723.7" y2="1560.6" stroke="#0c0c0c" stroke-width="3.5"/>
<line x1="845.8" y1="1571.6" x2="845.8" y2="1549.6" stroke="#0c0c0c" stroke-width="3.5"/>
<line x1="968" y1="1571.6" x2="968" y2="1560.6" stroke="#0c0c0c" stroke-width="3.5"/>
<text transform="translate(357.2,1647)" font-size="67.00" text-anchor="middle">14.2</text>
<text transform="translate(601.5,1647)" font-size="67.00" text-anchor="middle">14.3</text>
<text transform="translate(845.8,1647)" font-size="67.00" text-anchor="middle">14.4</text>
<text transform="translate(400.2,1729.3) scale(0.9879,1.0000)" font-size="67.00">Frequency (MHz)</text>
<text transform="translate(69.9,1482.3) rotate(-90) scale(0.9837,1.0000)" font-size="67.00">Intensity (dBm)</text>
<text transform="translate(16,1019.4) scale(1.0252,1.0000)" font-size="67.00">(c)</text>
<text transform="translate(688.97,1044.76) scale(1.117,1)" font-size="57.4" font-family="'DejaVu Serif', serif" font-style="italic">f</text>
<text transform="translate(725.2,1039.1) scale(1.1401,0.8814)" font-size="59.00">=</text>
<text transform="translate(775.8,1044.3) scale(1.0248,1.0000)" font-size="59.00">14.34MHz</text>
<text transform="translate(723.8,1315) scale(1.0402,1.0000)" font-size="52.50">~ 60 dB</text>
<line x1="720" y1="1092.9" x2="863" y2="1092.9" stroke="#ff6a6a" stroke-width="2" stroke-dasharray="2 1.4 2 1.4 2 7.2 2 1.4 2 10"/>
<line x1="712" y1="1491.6" x2="857" y2="1491.6" stroke="#ff6a6a" stroke-width="2" stroke-dasharray="2 1.4 2 1.4 2 7.2 2 10"/>
<line x1="785.9" y1="1234" x2="785.9" y2="1112" stroke="#111" stroke-width="2.2"/>
<path d="M785.9 1101.8 L779 1118 L785.9 1113.5 L792.8 1118 Z" fill="#111"/>
<line x1="785.9" y1="1352.5" x2="785.9" y2="1474" stroke="#111" stroke-width="2.2"/>
<path d="M785.9 1485 L779 1469 L785.9 1473.5 L792.8 1469 Z" fill="#111"/>
<rect x="344.4" y="977" width="323.6" height="269" fill="#fff" stroke="none"/>
<polyline points="344.3,1226.5 344.8,1226 345.2,1226.3 345.7,1225.6 346.1,1225.4 346.6,1226 347.1,1226.4 347.5,1223.2 348,1224.2 348.5,1224.9 348.9,1226.9 349.4,1224.7 349.8,1225.8 350.3,1224.7 350.8,1225.3 351.2,1221.9 351.7,1225.6 352.2,1227.1 352.6,1224 353.1,1223.9 353.5,1223.6 354,1229.5 354.5,1227 354.9,1226.8 355.4,1228 355.8,1225.5 356.3,1224.7 356.8,1224.1 357.2,1224.3 357.7,1225.6 358.2,1223.4 358.6,1225.3 359.1,1229.8 359.5,1226.1 360,1226.8 360.5,1225.2 360.9,1226.3 361.4,1226.2 361.8,1223.7 362.3,1226.8 362.8,1227.7 363.2,1225.4 363.7,1224.8 364.2,1225.9 364.6,1225.7 365.1,1226.6 365.5,1227.7 366,1226.9 366.5,1227.3 366.9,1223.9 367.4,1226.1 367.9,1223.7 368.3,1226 368.8,1227.1 369.2,1225.5 369.7,1225.5 370.2,1223.8 370.6,1228.8 371.1,1226.4 371.5,1225.2 372,1226.9 372.5,1225.6 372.9,1226.2 373.4,1223.7 373.9,1223.9 374.3,1228.8 374.8,1228 375.2,1226.9 375.7,1225.9 376.2,1226 376.6,1226.5 377.1,1224.9 377.5,1224.5 378,1225.6 378.5,1226.2 378.9,1225.7 379.4,1227 379.9,1224.5 380.3,1224.5 380.8,1227.1 381.2,1223.6 381.7,1225.8 382.2,1224.5 382.6,1225.8 383.1,1226 383.6,1224.7 384,1227.2 384.5,1226.1 384.9,1227.5 385.4,1225 385.9,1226.1 386.3,1226.2 386.8,1226.5 387.2,1224.8 387.7,1225.4 388.2,1226.1 388.6,1226.4 389.1,1223.1 389.6,1223.5 390,1227.4 390.5,1224 390.9,1225 391.4,1225.3 391.9,1225.1 392.3,1227.8 392.8,1222.1 393.3,1222.7 393.7,1225.7 394.2,1225.7 394.6,1225.5 395.1,1226.7 395.6,1224.9 396,1225.8 396.5,1227.3 396.9,1226.5 397.4,1226.7 397.9,1226.6 398.3,1226.3 398.8,1224.8 399.3,1226.4 399.7,1228.2 400.2,1223.6 400.6,1226.6 401.1,1223.6 401.6,1225.4 402,1225 402.5,1227 402.9,1225.6 403.4,1226.3 403.9,1225.9 404.3,1225.1 404.8,1226.3 405.3,1224.5 405.7,1227.9 406.2,1227.4 406.6,1225.1 407.1,1225 407.6,1224.2 408,1223.4 408.5,1225.1 409,1224.6 409.4,1225.4 409.9,1225.5 410.3,1225.9 410.8,1225.6 411.3,1226.6 411.7,1226 412.2,1224.6 412.6,1225 413.1,1224.1 413.6,1226.4 414,1226.3 414.5,1225.1 415,1227 415.4,1227.1 415.9,1224.8 416.3,1226.2 416.8,1224.5 417.3,1225.6 417.7,1226.4 418.2,1227.3 418.7,1224 419.1,1225.9 419.6,1227.1 420,1228 420.5,1227.6 421,1226.4 421.4,1224 421.9,1227.1 422.3,1225.4 422.8,1225.5 423.3,1230.7 423.7,1227.7 424.2,1224.6 424.7,1228.8 425.1,1224.2 425.6,1225.8 426,1228.3 426.5,1223.1 427,1226 427.4,1223.5 427.9,1225.6 428.3,1227 428.8,1224.2 429.3,1223.2 429.7,1224 430.2,1227.6 430.7,1225 431.1,1227.6 431.6,1226.8 432,1223.9 432.5,1228 433,1222.2 433.4,1228.2 433.9,1227.8 434.4,1224.8 434.8,1226.2 435.3,1226.1 435.7,1227.3 436.2,1224.8 436.7,1225.6 437.1,1226 437.6,1227.1 438,1228.1 438.5,1225.9 439,1229.1 439.4,1226.9 439.9,1225 440.4,1224.9 440.8,1226.5 441.3,1229.7 441.7,1225.1 442.2,1224.6 442.7,1225.8 443.1,1224 443.6,1224.4 444,1228.4 444.5,1226.2 445,1226.6 445.4,1223.6 445.9,1224.3 446.4,1225.7 446.8,1225 447.3,1224.6 447.7,1226.9 448.2,1226.1 448.7,1226 449.1,1226.5 449.6,1226.4 450.1,1225.5 450.5,1227.8 451,1227.6 451.4,1224.7 451.9,1223.6 452.4,1223.1 452.8,1228.5 453.3,1225.3 453.7,1227.1 454.2,1226.7 454.7,1226.2 455.1,1225.3 455.6,1225 456.1,1229.5 456.5,1226.8 457,1224.3 457.4,1225.7 457.9,1228.2 458.4,1227.3 458.8,1227 459.3,1224.3 459.8,1223.2 460.2,1227.4 460.7,1225 461.1,1226.2 461.6,1224.9 462.1,1226.1 462.5,1227.4 463,1226 463.4,1226 463.9,1222.8 464.4,1226.1 464.8,1224.1 465.3,1226.1 465.8,1225.8 466.2,1224.4 466.7,1225.4 467.1,1221.6 467.6,1222.4 468.1,1225.9 468.5,1223.4 469,1221.7 469.4,1225.6 469.9,1224.2 470.4,1221.2 470.8,1224.3 471.3,1221.9 471.8,1222.6 472.2,1221.9 472.7,1223.3 473.1,1221.5 473.6,1221.5 474.1,1217.8 474.5,1218.9 475,1219 475.5,1218.5 475.9,1216.7 476.4,1219.3 476.8,1217.6 477.3,1216.5 477.8,1215.3 478.2,1215.4 478.7,1211 479.1,1211.1 479.6,1207.1 480.1,1207.7 480.5,1206.4 481,1203.4 481.5,1201.6 481.9,1200.6 482.4,1197.2 482.8,1194 483.3,1194.1 483.8,1189 484.2,1188.5 484.7,1184.1 485.1,1182.5 485.6,1179.9 486.1,1175.6 486.5,1174.3 487,1171.5 487.5,1165.5 487.9,1161.9 488.4,1159.2 488.8,1150.3 489.3,1148.6 489.8,1145.9 490.2,1139.6 490.7,1135 491.2,1131.7 491.6,1126.7 492.1,1124.2 492.5,1116.2 493,1108.8 493.5,1104.9 493.9,1100 494.4,1097.4 494.8,1093.1 495.3,1085.2 495.8,1081.1 496.2,1077 496.7,1072.3 497.2,1065.7 497.6,1061.6 498.1,1058.7 498.5,1053.9 499,1052 499.5,1047.4 499.9,1041 500.4,1039 500.9,1036.3 501.3,1031.5 501.8,1027.3 502.2,1027.9 502.7,1024.9 503.2,1022.9 503.6,1017.2 504.1,1018 504.5,1018.2 505,1020 505.5,1016.4 505.9,1016.7 506.4,1018.2 506.9,1019.7 507.3,1020.2 507.8,1023.3 508.2,1023 508.7,1025.1 509.2,1028 509.6,1029.6 510.1,1034.3 510.5,1033.3 511,1038.5 511.5,1043.6 511.9,1044.5 512.4,1048.8 512.9,1054.5 513.3,1060 513.8,1062.6 514.2,1066.5 514.7,1070.9 515.2,1075.3 515.6,1080.3 516.1,1088.7 516.6,1091.3 517,1099.3 517.5,1100.2 517.9,1106 518.4,1110.2 518.9,1116.5 519.3,1121.5 519.8,1127.1 520.2,1135.2 520.7,1136.1 521.2,1136.6 521.6,1143 522.1,1149.5 522.6,1153 523,1156.9 523.5,1162.4 523.9,1165.4 524.4,1168.6 524.9,1173.4 525.3,1175.4 525.8,1177.5 526.3,1181.2 526.7,1185 527.2,1188.5 527.6,1189.8 528.1,1194.2 528.6,1196.8 529,1196.2 529.5,1200.8 529.9,1204.2 530.4,1202.8 530.9,1204.8 531.3,1205.8 531.8,1209.1 532.3,1208.7 532.7,1211.9 533.2,1214.4 533.6,1214.3 534.1,1214.7 534.6,1217.6 535,1217.2 535.5,1217.4 535.9,1219.1 536.4,1219 536.9,1219.8 537.3,1221.5 537.8,1220.4 538.3,1220.5 538.7,1224.7 539.2,1223.1 539.6,1221.3 540.1,1222.1 540.6,1225.8 541,1222.9 541.5,1221.5 542,1222.4 542.4,1222.8 542.9,1224.2 543.3,1224.1 543.8,1226 544.3,1224.4 544.7,1221.2 545.2,1224.6 545.6,1226 546.1,1224 546.6,1227.8 547,1221.5 547.5,1224 548,1225.3 548.4,1225.5 548.9,1223 549.3,1221.5 549.8,1221.7 550.3,1224 550.7,1220.3 551.2,1222.3 551.6,1223.4 552.1,1220.4 552.6,1220.7 553,1222.6 553.5,1222.8 554,1220.2 554.4,1222.4 554.9,1221.5 555.3,1219.8 555.8,1223.6 556.3,1224 556.7,1223.1 557.2,1222.7 557.7,1221.8 558.1,1220.4 558.6,1222.4 559,1219.4 559.5,1221.5 560,1224.7 560.4,1221.9 560.9,1220.8 561.3,1220.2 561.8,1222.8 562.3,1222 562.7,1218.6 563.2,1221.6 563.7,1223.1 564.1,1224 564.6,1222.4 565,1221.3 565.5,1223.4 566,1219.8 566.4,1222.9 566.9,1224.6 567.4,1220.8 567.8,1221.7 568.3,1222.1 568.7,1219.9 569.2,1222.7 569.7,1220.8 570.1,1222.6 570.6,1219.4 571,1221.8 571.5,1221.7 572,1220.9 572.4,1221.9 572.9,1221.1 573.4,1222.1 573.8,1220.9 574.3,1221.7 574.7,1222.6 575.2,1220.9 575.7,1221.1 576.1,1223.3 576.6,1222.2 577,1224.2 577.5,1221.6 578,1220.5 578.4,1218.2 578.9,1221.3 579.4,1220.2 579.8,1219.6 580.3,1220.7 580.7,1224.5 581.2,1222.4 581.7,1221.3 582.1,1221.3 582.6,1221.6 583.1,1223.1 583.5,1224.5 584,1221.2 584.4,1220.1 584.9,1222.4 585.4,1220.9 585.8,1222.5 586.3,1222 586.7,1222.6 587.2,1220.6 587.7,1223.1 588.1,1221.5 588.6,1220.4 589.1,1221.8 589.5,1223.5 590,1221.2 590.4,1222 590.9,1223.6 591.4,1222 591.8,1222.2 592.3,1220.9 592.7,1222.5 593.2,1221.6 593.7,1220.9 594.1,1224.5 594.6,1220.3 595.1,1221.7 595.5,1223.2 596,1221.6 596.4,1220.3 596.9,1222.8 597.4,1222.6 597.8,1219.8 598.3,1219.5 598.8,1218.9 599.2,1221.7 599.7,1223.1 600.1,1223.1 600.6,1222.2 601.1,1223.2 601.5,1221.1 602,1219.9 602.4,1223.3 602.9,1219.6 603.4,1223.1 603.8,1222.8 604.3,1223.7 604.8,1220.7 605.2,1221.9 605.7,1221.7 606.1,1225.9 606.6,1222.6 607.1,1221.3 607.5,1225.7 608,1218.9 608.5,1221.3 608.9,1220.2 609.4,1222.2 609.8,1220.4 610.3,1219.9 610.8,1218 611.2,1223.2 611.7,1218.7 612.1,1223.3 612.6,1221.5 613.1,1222.3 613.5,1221.9 614,1224.5 614.5,1222.1 614.9,1223.4 615.4,1222 615.8,1221.3 616.3,1221.6 616.8,1221.8 617.2,1219.7 617.7,1221.2 618.1,1220.8 618.6,1219.7 619.1,1221.7 619.5,1221.5 620,1220.7 620.5,1222 620.9,1219.8 621.4,1222.6 621.8,1222 622.3,1221.9 622.8,1222.1 623.2,1221.7 623.7,1222.3 624.2,1225.1 624.6,1220 625.1,1222.3 625.5,1220.6 626,1223.2 626.5,1220.8 626.9,1223.6 627.4,1219.6 627.8,1221.9 628.3,1222.3 628.8,1225.8 629.2,1225 629.7,1222.4 630.2,1222.6 630.6,1222.6 631.1,1222.5 631.5,1220.4 632,1222.3 632.5,1222.3 632.9,1222.8 633.4,1223.3 633.9,1221.2 634.3,1222.4 634.8,1222.3 635.2,1221.3 635.7,1221.7 636.2,1220.6 636.6,1220.7 637.1,1223.6 637.5,1222.9 638,1220.4 638.5,1222.3 638.9,1220.8 639.4,1223 639.9,1225.3 640.3,1224.9 640.8,1222.8 641.2,1222.4 641.7,1218.3 642.2,1220.7 642.6,1220.7 643.1,1220.4 643.5,1224.1 644,1221.6 644.5,1221.9 644.9,1218.9 645.4,1222.7 645.9,1223.8 646.3,1221.6 646.8,1222 647.2,1221.6 647.7,1221.4 648.2,1221.5 648.6,1222.6 649.1,1222.3 649.6,1218.3 650,1222.6 650.5,1220.9 650.9,1223.1 651.4,1224.2 651.9,1220.4 652.3,1221.4 652.8,1219.7 653.2,1220.1 653.7,1221.3 654.2,1222.7 654.6,1218.8 655.1,1221.5 655.6,1218.5 656,1220.5 656.5,1220.2 656.9,1220.6 657.4,1220.8 657.9,1221.8 658.3,1218.1 658.8,1222.8 659.2,1223.7 659.7,1221 660.2,1222.4 660.6,1220 661.1,1221.7 661.6,1219.7 662,1221.3 662.5,1222.6 662.9,1221.9 663.4,1220.4 663.9,1222.3 664.3,1222.7 664.8,1221.7 665.3,1221 665.7,1219.7 666.2,1220.9 666.6,1220.2 667.1,1221.7" fill="none" stroke="#ff1010" stroke-width="5.2" stroke-linejoin="round"/>
<polyline points="344.3,1225.9 344.8,1225.9 345.2,1225.9 345.7,1225.9 346.1,1225.9 346.6,1225.9 347.1,1225.9 347.5,1225.9 348,1225.9 348.5,1225.9 348.9,1225.9 349.4,1225.9 349.8,1225.9 350.3,1225.9 350.8,1225.9 351.2,1225.9 351.7,1225.9 352.2,1225.9 352.6,1225.9 353.1,1225.9 353.5,1225.9 354,1225.9 354.5,1225.9 354.9,1225.9 355.4,1225.9 355.8,1225.9 356.3,1225.9 356.8,1225.9 357.2,1225.9 357.7,1225.9 358.2,1225.9 358.6,1225.9 359.1,1225.9 359.5,1225.9 360,1225.9 360.5,1225.9 360.9,1225.9 361.4,1225.9 361.8,1225.9 362.3,1225.9 362.8,1225.9 363.2,1225.9 363.7,1225.9 364.2,1225.9 364.6,1225.9 365.1,1225.9 365.5,1225.9 366,1225.9 366.5,1225.9 366.9,1225.9 367.4,1225.9 367.9,1225.9 368.3,1225.9 368.8,1225.9 369.2,1225.9 369.7,1225.9 370.2,1225.9 370.6,1225.9 371.1,1225.9 371.5,1225.9 372,1225.9 372.5,1225.9 372.9,1225.9 373.4,1225.9 373.9,1225.9 374.3,1225.9 374.8,1225.9 375.2,1225.9 375.7,1225.9 376.2,1225.9 376.6,1225.9 377.1,1225.9 377.5,1225.9 378,1225.9 378.5,1225.9 378.9,1225.9 379.4,1225.9 379.9,1225.9 380.3,1225.9 380.8,1225.9 381.2,1225.9 381.7,1225.9 382.2,1225.9 382.6,1225.9 383.1,1225.9 383.6,1225.9 384,1225.9 384.5,1225.9 384.9,1225.9 385.4,1225.9 385.9,1225.9 386.3,1225.9 386.8,1225.9 387.2,1225.9 387.7,1225.9 388.2,1225.9 388.6,1225.9 389.1,1225.9 389.6,1225.9 390,1225.9 390.5,1225.9 390.9,1225.9 391.4,1225.9 391.9,1225.9 392.3,1225.9 392.8,1225.9 393.3,1225.9 393.7,1225.9 394.2,1225.9 394.6,1225.9 395.1,1225.9 395.6,1225.9 396,1225.9 396.5,1225.9 396.9,1225.9 397.4,1225.9 397.9,1225.9 398.3,1225.9 398.8,1225.9 399.3,1225.9 399.7,1225.9 400.2,1225.9 400.6,1225.9 401.1,1225.9 401.6,1225.9 402,1225.9 402.5,1225.9 402.9,1225.9 403.4,1225.9 403.9,1225.9 404.3,1225.9 404.8,1225.9 405.3,1225.9 405.7,1225.9 406.2,1225.9 406.6,1225.9 407.1,1225.9 407.6,1225.9 408,1225.9 408.5,1225.9 409,1225.9 409.4,1225.9 409.9,1225.9 410.3,1225.9 410.8,1225.9 411.3,1225.9 411.7,1225.9 412.2,1225.9 412.6,1225.9 413.1,1225.9 413.6,1225.9 414,1225.9 414.5,1225.9 415,1225.9 415.4,1225.9 415.9,1225.9 416.3,1225.9 416.8,1225.9 417.3,1225.9 417.7,1225.9 418.2,1225.9 418.7,1225.9 419.1,1225.9 419.6,1225.9 420,1225.9 420.5,1225.9 421,1225.9 421.4,1225.9 421.9,1225.9 422.3,1225.9 422.8,1225.9 423.3,1225.9 423.7,1225.9 424.2,1225.9 424.7,1225.9 425.1,1225.9 425.6,1225.9 426,1225.9 426.5,1225.9 427,1225.9 427.4,1225.9 427.9,1225.9 428.3,1225.9 428.8,1225.9 429.3,1225.9 429.7,1225.9 430.2,1225.9 430.7,1225.9 431.1,1225.9 431.6,1225.9 432,1225.9 432.5,1225.9 433,1225.9 433.4,1225.9 433.9,1225.9 434.4,1225.9 434.8,1225.9 435.3,1225.9 435.7,1225.9 436.2,1225.9 436.7,1225.9 437.1,1225.9 437.6,1225.9 438,1225.9 438.5,1225.9 439,1225.9 439.4,1225.9 439.9,1225.9 440.4,1225.9 440.8,1225.9 441.3,1225.9 441.7,1225.9 442.2,1225.9 442.7,1225.9 443.1,1225.9 443.6,1225.9 444,1225.9 444.5,1225.9 445,1225.9 445.4,1225.9 445.9,1225.9 446.4,1225.9 446.8,1225.9 447.3,1225.9 447.7,1225.9 448.2,1225.9 448.7,1225.9 449.1,1225.9 449.6,1225.9 450.1,1225.9 450.5,1225.9 451,1225.9 451.4,1225.9 451.9,1225.9 452.4,1225.9 452.8,1225.9 453.3,1225.9 453.7,1225.9 454.2,1225.9 454.7,1225.9 455.1,1225.9 455.6,1225.9 456.1,1225.9 456.5,1225.9 457,1225.9 457.4,1225.9 457.9,1225.9 458.4,1225.9 458.8,1225.9 459.3,1225.9 459.8,1225.9 460.2,1225.8 460.7,1225.8 461.1,1225.8 461.6,1225.8 462.1,1225.8 462.5,1225.7 463,1225.7 463.4,1225.7 463.9,1225.6 464.4,1225.6 464.8,1225.5 465.3,1225.5 465.8,1225.4 466.2,1225.3 466.7,1225.2 467.1,1225.1 467.6,1225 468.1,1224.9 468.5,1224.7 469,1224.6 469.4,1224.4 469.9,1224.2 470.4,1224 470.8,1223.7 471.3,1223.4 471.8,1223.1 472.2,1222.8 472.7,1222.4 473.1,1222 473.6,1221.5 474.1,1221 474.5,1220.4 475,1219.8 475.5,1219.1 475.9,1218.4 476.4,1217.6 476.8,1216.7 477.3,1215.7 477.8,1214.7 478.2,1213.6 478.7,1212.3 479.1,1211 479.6,1209.6 480.1,1208.1 480.5,1206.5 481,1204.7 481.5,1202.8 481.9,1200.8 482.4,1198.7 482.8,1196.4 483.3,1194.1 483.8,1191.5 484.2,1188.8 484.7,1186 485.1,1183.1 485.6,1179.9 486.1,1176.7 486.5,1173.3 487,1169.7 487.5,1166 487.9,1162.2 488.4,1158.2 488.8,1154.1 489.3,1149.8 489.8,1145.5 490.2,1141 490.7,1136.4 491.2,1131.7 491.6,1126.9 492.1,1122.1 492.5,1117.2 493,1112.2 493.5,1107.2 493.9,1102.2 494.4,1097.1 494.8,1092.1 495.3,1087.1 495.8,1082.2 496.2,1077.3 496.7,1072.5 497.2,1067.7 497.6,1063.1 498.1,1058.7 498.5,1054.3 499,1050.2 499.5,1046.2 499.9,1042.5 500.4,1038.9 500.9,1035.6 501.3,1032.6 501.8,1029.8 502.2,1027.2 502.7,1025 503.2,1023.1 503.6,1021.5 504.1,1020.2 504.5,1019.2 505,1018.5 505.5,1018.2 505.9,1018.2 506.4,1018.5 506.9,1019.2 507.3,1020.2 507.8,1021.5 508.2,1023.1 508.7,1025 509.2,1027.2 509.6,1029.8 510.1,1032.6 510.5,1035.6 511,1038.9 511.5,1042.5 511.9,1046.2 512.4,1050.2 512.9,1054.3 513.3,1058.7 513.8,1063.1 514.2,1067.7 514.7,1072.5 515.2,1077.3 515.6,1082.2 516.1,1087.1 516.6,1092.1 517,1097.1 517.5,1102.2 517.9,1107.2 518.4,1112.2 518.9,1117.2 519.3,1122.1 519.8,1126.9 520.2,1131.7 520.7,1136.4 521.2,1141 521.6,1145.5 522.1,1149.8 522.6,1154.1 523,1158.2 523.5,1162.2 523.9,1166 524.4,1169.7 524.9,1173.3 525.3,1176.7 525.8,1179.9 526.3,1183.1 526.7,1186 527.2,1188.8 527.6,1191.5 528.1,1194.1 528.6,1196.4 529,1198.7 529.5,1200.8 529.9,1202.8 530.4,1204.7 530.9,1206.5 531.3,1208.1 531.8,1209.6 532.3,1211 532.7,1212.3 533.2,1213.6 533.6,1214.7 534.1,1215.7 534.6,1216.7 535,1217.6 535.5,1218.4 535.9,1219.1 536.4,1219.8 536.9,1220.4 537.3,1221 537.8,1221.5 538.3,1222 538.7,1222.4 539.2,1222.8 539.6,1223.1 540.1,1223.4 540.6,1223.7 541,1224 541.5,1224.2 542,1224.4 542.4,1224.6 542.9,1224.7 543.3,1224.9 543.8,1225 544.3,1225.1 544.7,1225.2 545.2,1225.3 545.6,1225.4 546.1,1225.5 546.6,1225.5 547,1225.6 547.5,1225.6 548,1225.7 548.4,1225.7 548.9,1225.7 549.3,1225.8 549.8,1225.8 550.3,1225.8 550.7,1225.8 551.2,1225.8 551.6,1225.9 552.1,1225.9 552.6,1225.9 553,1225.9 553.5,1225.9 554,1225.9 554.4,1225.9 554.9,1225.9 555.3,1225.9 555.8,1225.9 556.3,1225.9 556.7,1225.9 557.2,1225.9 557.7,1225.9 558.1,1225.9 558.6,1225.9 559,1225.9 559.5,1225.9 560,1225.9 560.4,1225.9 560.9,1225.9 561.3,1225.9 561.8,1225.9 562.3,1225.9 562.7,1225.9 563.2,1225.9 563.7,1225.9 564.1,1225.9 564.6,1225.9 565,1225.9 565.5,1225.9 566,1225.9 566.4,1225.9 566.9,1225.9 567.4,1225.9 567.8,1225.9 568.3,1225.9 568.7,1225.9 569.2,1225.9 569.7,1225.9 570.1,1225.9 570.6,1225.9 571,1225.9 571.5,1225.9 572,1225.9 572.4,1225.9 572.9,1225.9 573.4,1225.9 573.8,1225.9 574.3,1225.9 574.7,1225.9 575.2,1225.9 575.7,1225.9 576.1,1225.9 576.6,1225.9 577,1225.9 577.5,1225.9 578,1225.9 578.4,1225.9 578.9,1225.9 579.4,1225.9 579.8,1225.9 580.3,1225.9 580.7,1225.9 581.2,1225.9 581.7,1225.9 582.1,1225.9 582.6,1225.9 583.1,1225.9 583.5,1225.9 584,1225.9 584.4,1225.9 584.9,1225.9 585.4,1225.9 585.8,1225.9 586.3,1225.9 586.7,1225.9 587.2,1225.9 587.7,1225.9 588.1,1225.9 588.6,1225.9 589.1,1225.9 589.5,1225.9 590,1225.9 590.4,1225.9 590.9,1225.9 591.4,1225.9 591.8,1225.9 592.3,1225.9 592.7,1225.9 593.2,1225.9 593.7,1225.9 594.1,1225.9 594.6,1225.9 595.1,1225.9 595.5,1225.9 596,1225.9 596.4,1225.9 596.9,1225.9 597.4,1225.9 597.8,1225.9 598.3,1225.9 598.8,1225.9 599.2,1225.9 599.7,1225.9 600.1,1225.9 600.6,1225.9 601.1,1225.9 601.5,1225.9 602,1225.9 602.4,1225.9 602.9,1225.9 603.4,1225.9 603.8,1225.9 604.3,1225.9 604.8,1225.9 605.2,1225.9 605.7,1225.9 606.1,1225.9 606.6,1225.9 607.1,1225.9 607.5,1225.9 608,1225.9 608.5,1225.9 608.9,1225.9 609.4,1225.9 609.8,1225.9 610.3,1225.9 610.8,1225.9 611.2,1225.9 611.7,1225.9 612.1,1225.9 612.6,1225.9 613.1,1225.9 613.5,1225.9 614,1225.9 614.5,1225.9 614.9,1225.9 615.4,1225.9 615.8,1225.9 616.3,1225.9 616.8,1225.9 617.2,1225.9 617.7,1225.9 618.1,1225.9 618.6,1225.9 619.1,1225.9 619.5,1225.9 620,1225.9 620.5,1225.9 620.9,1225.9 621.4,1225.9 621.8,1225.9 622.3,1225.9 622.8,1225.9 623.2,1225.9 623.7,1225.9 624.2,1225.9 624.6,1225.9 625.1,1225.9 625.5,1225.9 626,1225.9 626.5,1225.9 626.9,1225.9 627.4,1225.9 627.8,1225.9 628.3,1225.9 628.8,1225.9 629.2,1225.9 629.7,1225.9 630.2,1225.9 630.6,1225.9 631.1,1225.9 631.5,1225.9 632,1225.9 632.5,1225.9 632.9,1225.9 633.4,1225.9 633.9,1225.9 634.3,1225.9 634.8,1225.9 635.2,1225.9 635.7,1225.9 636.2,1225.9 636.6,1225.9 637.1,1225.9 637.5,1225.9 638,1225.9 638.5,1225.9 638.9,1225.9 639.4,1225.9 639.9,1225.9 640.3,1225.9 640.8,1225.9 641.2,1225.9 641.7,1225.9 642.2,1225.9 642.6,1225.9 643.1,1225.9 643.5,1225.9 644,1225.9 644.5,1225.9 644.9,1225.9 645.4,1225.9 645.9,1225.9 646.3,1225.9 646.8,1225.9 647.2,1225.9 647.7,1225.9 648.2,1225.9 648.6,1225.9 649.1,1225.9 649.6,1225.9 650,1225.9 650.5,1225.9 650.9,1225.9 651.4,1225.9 651.9,1225.9 652.3,1225.9 652.8,1225.9 653.2,1225.9 653.7,1225.9 654.2,1225.9 654.6,1225.9 655.1,1225.9 655.6,1225.9 656,1225.9 656.5,1225.9 656.9,1225.9 657.4,1225.9 657.9,1225.9 658.3,1225.9 658.8,1225.9 659.2,1225.9 659.7,1225.9 660.2,1225.9 660.6,1225.9 661.1,1225.9 661.6,1225.9 662,1225.9 662.5,1225.9 662.9,1225.9 663.4,1225.9 663.9,1225.9 664.3,1225.9 664.8,1225.9 665.3,1225.9 665.7,1225.9 666.2,1225.9 666.6,1225.9 667.1,1225.9" fill="none" stroke="#3a3aff" stroke-width="1.9" stroke-linejoin="round"/>
<rect x="344.4" y="977" width="323.6" height="269" fill="none" stroke="#333" stroke-width="2.3"/>
<line x1="344.4" y1="1245.9" x2="349.1" y2="1245.9" stroke="#333" stroke-width="2"/>
<line x1="344.4" y1="1225.1" x2="353.4" y2="1225.1" stroke="#333" stroke-width="2"/>
<line x1="344.4" y1="1204.3" x2="349.1" y2="1204.3" stroke="#333" stroke-width="2"/>
<line x1="344.4" y1="1183.5" x2="353.4" y2="1183.5" stroke="#333" stroke-width="2"/>
<line x1="344.4" y1="1162.8" x2="349.1" y2="1162.8" stroke="#333" stroke-width="2"/>
<line x1="344.4" y1="1142" x2="353.4" y2="1142" stroke="#333" stroke-width="2"/>
<line x1="344.4" y1="1121.2" x2="349.1" y2="1121.2" stroke="#333" stroke-width="2"/>
<line x1="344.4" y1="1100.4" x2="353.4" y2="1100.4" stroke="#333" stroke-width="2"/>
<line x1="344.4" y1="1079.6" x2="349.1" y2="1079.6" stroke="#333" stroke-width="2"/>
<line x1="344.4" y1="1058.9" x2="353.4" y2="1058.9" stroke="#333" stroke-width="2"/>
<line x1="344.4" y1="1038.1" x2="349.1" y2="1038.1" stroke="#333" stroke-width="2"/>
<line x1="344.4" y1="1017.3" x2="353.4" y2="1017.3" stroke="#333" stroke-width="2"/>
<line x1="344.4" y1="996.5" x2="349.1" y2="996.5" stroke="#333" stroke-width="2"/>
<line x1="344.3" y1="1246" x2="344.3" y2="1238" stroke="#333" stroke-width="2"/>
<line x1="371.2" y1="1246" x2="371.2" y2="1242.2" stroke="#333" stroke-width="2"/>
<line x1="398.1" y1="1246" x2="398.1" y2="1238" stroke="#333" stroke-width="2"/>
<line x1="425" y1="1246" x2="425" y2="1242.2" stroke="#333" stroke-width="2"/>
<line x1="451.9" y1="1246" x2="451.9" y2="1238" stroke="#333" stroke-width="2"/>
<line x1="478.8" y1="1246" x2="478.8" y2="1242.2" stroke="#333" stroke-width="2"/>
<line x1="505.7" y1="1246" x2="505.7" y2="1238" stroke="#333" stroke-width="2"/>
<line x1="532.6" y1="1246" x2="532.6" y2="1242.2" stroke="#333" stroke-width="2"/>
<line x1="559.5" y1="1246" x2="559.5" y2="1238" stroke="#333" stroke-width="2"/>
<line x1="586.4" y1="1246" x2="586.4" y2="1242.2" stroke="#333" stroke-width="2"/>
<line x1="613.3" y1="1246" x2="613.3" y2="1238" stroke="#333" stroke-width="2"/>
<line x1="640.2" y1="1246" x2="640.2" y2="1242.2" stroke="#333" stroke-width="2"/>
<line x1="667.1" y1="1246" x2="667.1" y2="1238" stroke="#333" stroke-width="2"/>
<text transform="translate(336.6,1233.1) scale(0.9300,1.0000)" font-size="30.00" text-anchor="end" font-weight="bold">0.0</text>
<text transform="translate(336.6,1191.5) scale(0.9300,1.0000)" font-size="30.00" text-anchor="end" font-weight="bold">0.2</text>
<text transform="translate(336.6,1150) scale(0.9300,1.0000)" font-size="30.00" text-anchor="end" font-weight="bold">0.4</text>
<text transform="translate(336.6,1108.4) scale(0.9300,1.0000)" font-size="30.00" text-anchor="end" font-weight="bold">0.6</text>
<text transform="translate(336.6,1066.9) scale(0.9300,1.0000)" font-size="30.00" text-anchor="end" font-weight="bold">0.8</text>
<text transform="translate(336.6,1025.3) scale(0.9300,1.0000)" font-size="30.00" text-anchor="end" font-weight="bold">1.0</text>
<text transform="translate(336.6,983.7) scale(0.9300,1.0000)" font-size="30.00" text-anchor="end" font-weight="bold">1.2</text>
<text transform="translate(344.3,1278) scale(0.9300,1.0000)" font-size="30.00" text-anchor="middle" font-weight="bold">-6</text>
<text transform="translate(398.1,1278) scale(0.9300,1.0000)" font-size="30.00" text-anchor="middle" font-weight="bold">-4</text>
<text transform="translate(451.9,1278) scale(0.9300,1.0000)" font-size="30.00" text-anchor="middle" font-weight="bold">-2</text>
<text transform="translate(505.7,1278) scale(0.9300,1.0000)" font-size="30.00" text-anchor="middle" font-weight="bold">0</text>
<text transform="translate(559.5,1278) scale(0.9300,1.0000)" font-size="30.00" text-anchor="middle" font-weight="bold">2</text>
<text transform="translate(613.3,1278) scale(0.9300,1.0000)" font-size="30.00" text-anchor="middle" font-weight="bold">4</text>
<text transform="translate(667.1,1278) scale(0.9300,1.0000)" font-size="30.00" text-anchor="middle" font-weight="bold">6</text>
<text transform="translate(418.1,1314.2) scale(0.8993,1.0000)" font-size="29.50" font-weight="bold">Time delay (ps)</text>
<text transform="translate(279.2,1219.9) rotate(-90) scale(0.9431,1.0000)" font-size="29.50" font-weight="bold">Intensity (a. u.)</text>
<text transform="translate(536.8,1102.2) scale(1.0480,1.0000)" font-size="31.50" font-weight="bold">955 fs</text>
<line x1="401.8" y1="1126.9" x2="470" y2="1126.9" stroke="#222" stroke-width="2"/>
<path d="M480.5 1126.9 L467 1122.8 L469.5 1126.9 L467 1131 Z" fill="#222"/>
<line x1="540" y1="1126.9" x2="615" y2="1126.9" stroke="#222" stroke-width="2"/>
<path d="M529.4 1126.9 L543 1122.8 L540.5 1126.9 L543 1131 Z" fill="#222"/>
<defs><linearGradient id="hm" x1="0" y1="0" x2="1" y2="0"><stop offset="0.0000" stop-color="#0b0000"/><stop offset="0.0046" stop-color="#0b0000"/><stop offset="0.0091" stop-color="#0b0000"/><stop offset="0.0137" stop-color="#0b0000"/><stop offset="0.0183" stop-color="#0b0000"/><stop offset="0.0228" stop-color="#0b0000"/><stop offset="0.0274" stop-color="#0b0000"/><stop offset="0.0320" stop-color="#0b0000"/><stop offset="0.0365" stop-color="#0b0000"/><stop offset="0.0411" stop-color="#0b0000"/><stop offset="0.0457" stop-color="#0b0000"/><stop offset="0.0502" stop-color="#0b0000"/><stop offset="0.0548" stop-color="#0b0000"/><stop offset="0.0594" stop-color="#0b0000"/><stop offset="0.0639" stop-color="#0b0000"/><stop offset="0.0685" stop-color="#0b0000"/><stop offset="0.0731" stop-color="#0b0000"/><stop offset="0.0776" stop-color="#0b0000"/><stop offset="0.0822" stop-color="#0b0000"/><stop offset="0.0868" stop-color="#0b0000"/><stop offset="0.0913" stop-color="#0b0000"/><stop offset="0.0959" stop-color="#0b0000"/><stop offset="0.1005" stop-color="#0b0000"/><stop offset="0.1050" stop-color="#0b0000"/><stop offset="0.1096" stop-color="#0b0000"/><stop offset="0.1142" stop-color="#0b0000"/><stop offset="0.1187" stop-color="#0b0000"/><stop offset="0.1233" stop-color="#0b0000"/><stop offset="0.1279" stop-color="#0b0000"/><stop offset="0.1324" stop-color="#0b0000"/><stop offset="0.1370" stop-color="#0b0000"/><stop offset="0.1416" stop-color="#0b0000"/><stop offset="0.1461" stop-color="#0b0000"/><stop offset="0.1507" stop-color="#0b0000"/><stop offset="0.1553" stop-color="#0b0000"/><stop offset="0.1598" stop-color="#0b0000"/><stop offset="0.1644" stop-color="#0b0000"/><stop offset="0.1689" stop-color="#0b0000"/><stop offset="0.1735" stop-color="#0b0000"/><stop offset="0.1781" stop-color="#0b0000"/><stop offset="0.1826" stop-color="#0b0000"/><stop offset="0.1872" stop-color="#0b0000"/><stop offset="0.1918" stop-color="#0b0000"/><stop offset="0.1963" stop-color="#0b0000"/><stop offset="0.2009" stop-color="#0b0000"/><stop offset="0.2055" stop-color="#0c0000"/><stop offset="0.2100" stop-color="#0c0000"/><stop offset="0.2146" stop-color="#0c0000"/><stop offset="0.2192" stop-color="#0c0000"/><stop offset="0.2208" stop-color="#0c0000"/><stop offset="0.2237" stop-color="#120000"/><stop offset="0.2248" stop-color="#120000"/><stop offset="0.2283" stop-color="#120000"/><stop offset="0.2329" stop-color="#130000"/><stop offset="0.2374" stop-color="#130000"/><stop offset="0.2420" stop-color="#140000"/><stop offset="0.2466" stop-color="#150000"/><stop offset="0.2511" stop-color="#150000"/><stop offset="0.2557" stop-color="#160000"/><stop offset="0.2603" stop-color="#180000"/><stop offset="0.2648" stop-color="#190000"/><stop offset="0.2694" stop-color="#1a0000"/><stop offset="0.2740" stop-color="#1c0000"/><stop offset="0.2785" stop-color="#1e0000"/><stop offset="0.2831" stop-color="#200000"/><stop offset="0.2877" stop-color="#230000"/><stop offset="0.2922" stop-color="#260000"/><stop offset="0.2968" stop-color="#290000"/><stop offset="0.3014" stop-color="#2c0000"/><stop offset="0.3059" stop-color="#300000"/><stop offset="0.3105" stop-color="#350000"/><stop offset="0.3151" stop-color="#3a0000"/><stop offset="0.3196" stop-color="#3f0000"/><stop offset="0.3242" stop-color="#450000"/><stop offset="0.3288" stop-color="#4b0000"/><stop offset="0.3333" stop-color="#520000"/><stop offset="0.3379" stop-color="#5a0000"/><stop offset="0.3425" stop-color="#620000"/><stop offset="0.3470" stop-color="#6b0000"/><stop offset="0.3516" stop-color="#740000"/><stop offset="0.3562" stop-color="#7f0000"/><stop offset="0.3607" stop-color="#890000"/><stop offset="0.3653" stop-color="#950000"/><stop offset="0.3699" stop-color="#a10000"/><stop offset="0.3744" stop-color="#ae0000"/><stop offset="0.3790" stop-color="#bb0000"/><stop offset="0.3836" stop-color="#c90000"/><stop offset="0.3881" stop-color="#d70000"/><stop offset="0.3927" stop-color="#e60000"/><stop offset="0.3973" stop-color="#f50000"/><stop offset="0.4018" stop-color="#ff0500"/><stop offset="0.4064" stop-color="#ff1500"/><stop offset="0.4110" stop-color="#ff2500"/><stop offset="0.4155" stop-color="#ff3400"/><stop offset="0.4201" stop-color="#ff4400"/><stop offset="0.4247" stop-color="#ff5400"/><stop offset="0.4292" stop-color="#ff6300"/><stop offset="0.4338" stop-color="#ff7200"/><stop offset="0.4384" stop-color="#ff8100"/><stop offset="0.4429" stop-color="#ff8f00"/><stop offset="0.4475" stop-color="#ff9c00"/><stop offset="0.4521" stop-color="#ffa800"/><stop offset="0.4566" stop-color="#ffb400"/><stop offset="0.4612" stop-color="#ffbe00"/><stop offset="0.4658" stop-color="#ffc800"/><stop offset="0.4703" stop-color="#ffd000"/><stop offset="0.4749" stop-color="#ffd700"/><stop offset="0.4795" stop-color="#ffdd00"/><stop offset="0.4840" stop-color="#ffe100"/><stop offset="0.4886" stop-color="#ffe400"/><stop offset="0.4932" stop-color="#ffe500"/><stop offset="0.4977" stop-color="#ffe500"/><stop offset="0.5023" stop-color="#ffe400"/><stop offset="0.5068" stop-color="#ffe100"/><stop offset="0.5114" stop-color="#ffdd00"/><stop offset="0.5160" stop-color="#ffd700"/><stop offset="0.5205" stop-color="#ffd000"/><stop offset="0.5251" stop-color="#ffc800"/><stop offset="0.5297" stop-color="#ffbe00"/><stop offset="0.5342" stop-color="#ffb400"/><stop offset="0.5388" stop-color="#ffa800"/><stop offset="0.5434" stop-color="#ff9c00"/><stop offset="0.5479" stop-color="#ff8f00"/><stop offset="0.5525" stop-color="#ff8100"/><stop offset="0.5571" stop-color="#ff7200"/><stop offset="0.5616" stop-color="#ff6300"/><stop offset="0.5662" stop-color="#ff5400"/><stop offset="0.5708" stop-color="#ff4400"/><stop offset="0.5753" stop-color="#ff3400"/><stop offset="0.5799" stop-color="#ff2400"/><stop offset="0.5845" stop-color="#ff1500"/><stop offset="0.5890" stop-color="#ff0500"/><stop offset="0.5936" stop-color="#f50000"/><stop offset="0.5982" stop-color="#e50000"/><stop offset="0.6027" stop-color="#d70000"/><stop offset="0.6073" stop-color="#c80000"/><stop offset="0.6119" stop-color="#bb0000"/><stop offset="0.6164" stop-color="#ad0000"/><stop offset="0.6210" stop-color="#a10000"/><stop offset="0.6256" stop-color="#950000"/><stop offset="0.6301" stop-color="#890000"/><stop offset="0.6347" stop-color="#7f0000"/><stop offset="0.6393" stop-color="#740000"/><stop offset="0.6438" stop-color="#6b0000"/><stop offset="0.6484" stop-color="#620000"/><stop offset="0.6530" stop-color="#5a0000"/><stop offset="0.6575" stop-color="#520000"/><stop offset="0.6621" stop-color="#4b0000"/><stop offset="0.6667" stop-color="#450000"/><stop offset="0.6712" stop-color="#3f0000"/><stop offset="0.6758" stop-color="#3a0000"/><stop offset="0.6804" stop-color="#350000"/><stop offset="0.6849" stop-color="#300000"/><stop offset="0.6895" stop-color="#2c0000"/><stop offset="0.6941" stop-color="#290000"/><stop offset="0.6986" stop-color="#260000"/><stop offset="0.7032" stop-color="#230000"/><stop offset="0.7078" stop-color="#200000"/><stop offset="0.7123" stop-color="#1e0000"/><stop offset="0.7169" stop-color="#1c0000"/><stop offset="0.7215" stop-color="#1a0000"/><stop offset="0.7260" stop-color="#190000"/><stop offset="0.7306" stop-color="#180000"/><stop offset="0.7352" stop-color="#160000"/><stop offset="0.7397" stop-color="#150000"/><stop offset="0.7443" stop-color="#150000"/><stop offset="0.7489" stop-color="#140000"/><stop offset="0.7534" stop-color="#130000"/><stop offset="0.7580" stop-color="#130000"/><stop offset="0.7626" stop-color="#120000"/><stop offset="0.7671" stop-color="#120000"/><stop offset="0.7717" stop-color="#120000"/><stop offset="0.7763" stop-color="#110000"/><stop offset="0.7808" stop-color="#110000"/><stop offset="0.7826" stop-color="#110000"/><stop offset="0.7854" stop-color="#0c0000"/><stop offset="0.7865" stop-color="#0b0000"/><stop offset="0.7900" stop-color="#0b0000"/><stop offset="0.7945" stop-color="#0b0000"/><stop offset="0.7991" stop-color="#0b0000"/><stop offset="0.8037" stop-color="#0b0000"/><stop offset="0.8082" stop-color="#0b0000"/><stop offset="0.8128" stop-color="#0b0000"/><stop offset="0.8174" stop-color="#0b0000"/><stop offset="0.8219" stop-color="#0b0000"/><stop offset="0.8265" stop-color="#0b0000"/><stop offset="0.8311" stop-color="#0b0000"/><stop offset="0.8356" stop-color="#0b0000"/><stop offset="0.8402" stop-color="#0b0000"/><stop offset="0.8447" stop-color="#0b0000"/><stop offset="0.8493" stop-color="#0b0000"/><stop offset="0.8539" stop-color="#0b0000"/><stop offset="0.8584" stop-color="#0b0000"/><stop offset="0.8630" stop-color="#0b0000"/><stop offset="0.8676" stop-color="#0b0000"/><stop offset="0.8721" stop-color="#0b0000"/><stop offset="0.8767" stop-color="#0b0000"/><stop offset="0.8813" stop-color="#0b0000"/><stop offset="0.8858" stop-color="#0b0000"/><stop offset="0.8904" stop-color="#0b0000"/><stop offset="0.8950" stop-color="#0b0000"/><stop offset="0.8995" stop-color="#0b0000"/><stop offset="0.9041" stop-color="#0b0000"/><stop offset="0.9087" stop-color="#0b0000"/><stop offset="0.9132" stop-color="#0b0000"/><stop offset="0.9178" stop-color="#0b0000"/><stop offset="0.9224" stop-color="#0b0000"/><stop offset="0.9269" stop-color="#0b0000"/><stop offset="0.9315" stop-color="#0b0000"/><stop offset="0.9361" stop-color="#0b0000"/><stop offset="0.9406" stop-color="#0b0000"/><stop offset="0.9452" stop-color="#0b0000"/><stop offset="0.9498" stop-color="#0b0000"/><stop offset="0.9543" stop-color="#0b0000"/><stop offset="0.9589" stop-color="#0b0000"/><stop offset="0.9635" stop-color="#0b0000"/><stop offset="0.9680" stop-color="#0b0000"/><stop offset="0.9726" stop-color="#0b0000"/><stop offset="0.9772" stop-color="#0b0000"/><stop offset="0.9817" stop-color="#0b0000"/><stop offset="0.9863" stop-color="#0b0000"/><stop offset="0.9909" stop-color="#0b0000"/><stop offset="0.9954" stop-color="#0b0000"/><stop offset="1.0000" stop-color="#0b0000"/></linearGradient>
<linearGradient id="cb" x1="0" y1="1" x2="0" y2="0"><stop offset="0.0000" stop-color="#0b0000"/><stop offset="0.0156" stop-color="#0b0000"/><stop offset="0.0156" stop-color="#150000"/><stop offset="0.0312" stop-color="#150000"/><stop offset="0.0312" stop-color="#200000"/><stop offset="0.0469" stop-color="#200000"/><stop offset="0.0469" stop-color="#2a0000"/><stop offset="0.0625" stop-color="#2a0000"/><stop offset="0.0625" stop-color="#350000"/><stop offset="0.0781" stop-color="#350000"/><stop offset="0.0781" stop-color="#400000"/><stop offset="0.0938" stop-color="#400000"/><stop offset="0.0938" stop-color="#4a0000"/><stop offset="0.1094" stop-color="#4a0000"/><stop offset="0.1094" stop-color="#550000"/><stop offset="0.1250" stop-color="#550000"/><stop offset="0.1250" stop-color="#600000"/><stop offset="0.1406" stop-color="#600000"/><stop offset="0.1406" stop-color="#6a0000"/><stop offset="0.1562" stop-color="#6a0000"/><stop offset="0.1562" stop-color="#750000"/><stop offset="0.1719" stop-color="#750000"/><stop offset="0.1719" stop-color="#800000"/><stop offset="0.1875" stop-color="#800000"/><stop offset="0.1875" stop-color="#8a0000"/><stop offset="0.2031" stop-color="#8a0000"/><stop offset="0.2031" stop-color="#950000"/><stop offset="0.2188" stop-color="#950000"/><stop offset="0.2188" stop-color="#9f0000"/><stop offset="0.2344" stop-color="#9f0000"/><stop offset="0.2344" stop-color="#aa0000"/><stop offset="0.2500" stop-color="#aa0000"/><stop offset="0.2500" stop-color="#b50000"/><stop offset="0.2656" stop-color="#b50000"/><stop offset="0.2656" stop-color="#bf0000"/><stop offset="0.2812" stop-color="#bf0000"/><stop offset="0.2812" stop-color="#ca0000"/><stop offset="0.2969" stop-color="#ca0000"/><stop offset="0.2969" stop-color="#d40000"/><stop offset="0.3125" stop-color="#d40000"/><stop offset="0.3125" stop-color="#df0000"/><stop offset="0.3281" stop-color="#df0000"/><stop offset="0.3281" stop-color="#ea0000"/><stop offset="0.3438" stop-color="#ea0000"/><stop offset="0.3438" stop-color="#f40000"/><stop offset="0.3594" stop-color="#f40000"/><stop offset="0.3594" stop-color="#ff0000"/><stop offset="0.3750" stop-color="#ff0000"/><stop offset="0.3750" stop-color="#ff0b00"/><stop offset="0.3906" stop-color="#ff0b00"/><stop offset="0.3906" stop-color="#ff1500"/><stop offset="0.4062" stop-color="#ff1500"/><stop offset="0.4062" stop-color="#ff2000"/><stop offset="0.4219" stop-color="#ff2000"/><stop offset="0.4219" stop-color="#ff2a00"/><stop offset="0.4375" stop-color="#ff2a00"/><stop offset="0.4375" stop-color="#ff3500"/><stop offset="0.4531" stop-color="#ff3500"/><stop offset="0.4531" stop-color="#ff4000"/><stop offset="0.4688" stop-color="#ff4000"/><stop offset="0.4688" stop-color="#ff4a00"/><stop offset="0.4844" stop-color="#ff4a00"/><stop offset="0.4844" stop-color="#ff5500"/><stop offset="0.5000" stop-color="#ff5500"/><stop offset="0.5000" stop-color="#ff6000"/><stop offset="0.5156" stop-color="#ff6000"/><stop offset="0.5156" stop-color="#ff6a00"/><stop offset="0.5312" stop-color="#ff6a00"/><stop offset="0.5312" stop-color="#ff7500"/><stop offset="0.5469" stop-color="#ff7500"/><stop offset="0.5469" stop-color="#ff8000"/><stop offset="0.5625" stop-color="#ff8000"/><stop offset="0.5625" stop-color="#ff8a00"/><stop offset="0.5781" stop-color="#ff8a00"/><stop offset="0.5781" stop-color="#ff9500"/><stop offset="0.5938" stop-color="#ff9500"/><stop offset="0.5938" stop-color="#ff9f00"/><stop offset="0.6094" stop-color="#ff9f00"/><stop offset="0.6094" stop-color="#ffaa00"/><stop offset="0.6250" stop-color="#ffaa00"/><stop offset="0.6250" stop-color="#ffb500"/><stop offset="0.6406" stop-color="#ffb500"/><stop offset="0.6406" stop-color="#ffbf00"/><stop offset="0.6562" stop-color="#ffbf00"/><stop offset="0.6562" stop-color="#ffca00"/><stop offset="0.6719" stop-color="#ffca00"/><stop offset="0.6719" stop-color="#ffd400"/><stop offset="0.6875" stop-color="#ffd400"/><stop offset="0.6875" stop-color="#ffdf00"/><stop offset="0.7031" stop-color="#ffdf00"/><stop offset="0.7031" stop-color="#ffea00"/><stop offset="0.7188" stop-color="#ffea00"/><stop offset="0.7188" stop-color="#fff400"/><stop offset="0.7344" stop-color="#fff400"/><stop offset="0.7344" stop-color="#ffff00"/><stop offset="0.7500" stop-color="#ffff00"/><stop offset="0.7500" stop-color="#ffff10"/><stop offset="0.7656" stop-color="#ffff10"/><stop offset="0.7656" stop-color="#ffff20"/><stop offset="0.7812" stop-color="#ffff20"/><stop offset="0.7812" stop-color="#ffff30"/><stop offset="0.7969" stop-color="#ffff30"/><stop offset="0.7969" stop-color="#ffff40"/><stop offset="0.8125" stop-color="#ffff40"/><stop offset="0.8125" stop-color="#ffff50"/><stop offset="0.8281" stop-color="#ffff50"/><stop offset="0.8281" stop-color="#ffff60"/><stop offset="0.8438" stop-color="#ffff60"/><stop offset="0.8438" stop-color="#ffff70"/><stop offset="0.8594" stop-color="#ffff70"/><stop offset="0.8594" stop-color="#ffff80"/><stop offset="0.8750" stop-color="#ffff80"/><stop offset="0.8750" stop-color="#ffff8f"/><stop offset="0.8906" stop-color="#ffff8f"/><stop offset="0.8906" stop-color="#ffff9f"/><stop offset="0.9062" stop-color="#ffff9f"/><stop offset="0.9062" stop-color="#ffffaf"/><stop offset="0.9219" stop-color="#ffffaf"/><stop offset="0.9219" stop-color="#ffffbf"/><stop offset="0.9375" stop-color="#ffffbf"/><stop offset="0.9375" stop-color="#ffffcf"/><stop offset="0.9531" stop-color="#ffffcf"/><stop offset="0.9531" stop-color="#ffffdf"/><stop offset="0.9688" stop-color="#ffffdf"/><stop offset="0.9688" stop-color="#ffffef"/><stop offset="0.9844" stop-color="#ffffef"/><stop offset="0.9844" stop-color="#ffffff"/><stop offset="1.0000" stop-color="#ffffff"/></linearGradient></defs>
<rect x="1440.2" y="912.2" width="762.6" height="658.1" fill="url(#hm)"/>
<line x1="1610.1" y1="912.2" x2="1610.1" y2="1570.3" stroke="#350002" stroke-width="2.2"/>
<line x1="2038.4" y1="912.2" x2="2038.4" y2="1570.3" stroke="#2a0002" stroke-width="2"/>
<rect x="2222.4" y="912.6" width="41" height="657.4" fill="url(#cb)" stroke="#8a8a8a" stroke-width="1.6"/>
<line x1="2257.5" y1="1438.7" x2="2263.2" y2="1438.7" stroke="#555" stroke-width="1.6"/>
<line x1="2257.5" y1="1307.1" x2="2263.2" y2="1307.1" stroke="#555" stroke-width="1.6"/>
<line x1="2257.5" y1="1175.5" x2="2263.2" y2="1175.5" stroke="#555" stroke-width="1.6"/>
<line x1="2257.5" y1="1043.9" x2="2263.2" y2="1043.9" stroke="#555" stroke-width="1.6"/>
<text transform="translate(1422.6,1592.9)" font-size="62.30" text-anchor="end">0</text>
<text transform="translate(1422.6,1461.3)" font-size="62.30" text-anchor="end">200</text>
<text transform="translate(1422.6,1329.7)" font-size="62.30" text-anchor="end">400</text>
<text transform="translate(1422.6,1198)" font-size="62.30" text-anchor="end">600</text>
<text transform="translate(1422.6,1066.4)" font-size="62.30" text-anchor="end">800</text>
<text transform="translate(1422.6,934.8)" font-size="62.30" text-anchor="end">1000</text>
<text transform="translate(1487.5,1643)" font-size="62.30" text-anchor="middle">1560</text>
<text transform="translate(1637.1,1643)" font-size="62.30" text-anchor="middle">1565</text>
<text transform="translate(1786.7,1643)" font-size="62.30" text-anchor="middle">1570</text>
<text transform="translate(1936.3,1643)" font-size="62.30" text-anchor="middle">1575</text>
<text transform="translate(2085.9,1643)" font-size="62.30" text-anchor="middle">1580</text>
<text transform="translate(2281,1591.5)" font-size="62.30">0</text>
<text transform="translate(2281,1459.9)" font-size="62.30">0.2</text>
<text transform="translate(2281,1328.3)" font-size="62.30">0.4</text>
<text transform="translate(2281,1196.7)" font-size="62.30">0.6</text>
<text transform="translate(2281,1065.1)" font-size="62.30">0.8</text>
<text transform="translate(2281,933.5)" font-size="62.30">1</text>
<text transform="translate(1622.3,1728.6) scale(0.9640,1.0000)" font-size="67.00">Wavelength (nm)</text>
<text transform="translate(1267.6,1543.4) rotate(-90) scale(0.9604,1.0000)" font-size="67.00">Roundtrip number</text>
<text transform="translate(1212.3,1025.2) scale(0.9926,1.0000)" font-size="67.00">(d)</text></g></svg>
</body></html>
